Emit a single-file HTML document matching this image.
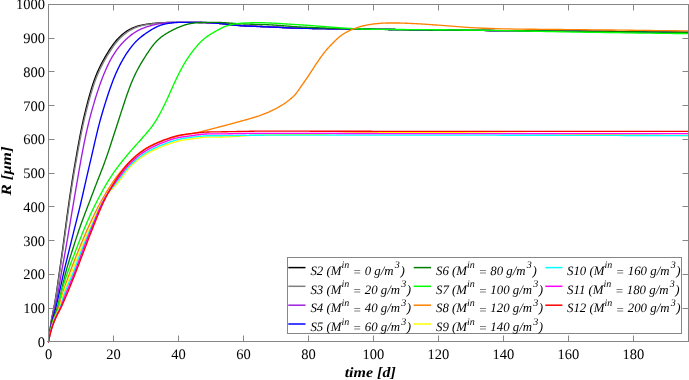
<!DOCTYPE html>
<html><head><meta charset="utf-8"><style>
html,body{margin:0;padding:0;background:#fff;}
body{width:689px;height:380px;overflow:hidden;}
svg{display:block;}
text{font-family:"Liberation Serif",serif;fill:#000;}
svg{-webkit-font-smoothing:antialiased;text-rendering:geometricPrecision;will-change:transform;}
</style></head><body>
<svg width="689" height="380" viewBox="0 0 689 380">
<rect x="0" y="0" width="689" height="380" fill="#fff"/>
<g fill="none" stroke-width="1.35" stroke-linejoin="round" stroke-linecap="round">
<path d="M48.50,341.75 48.82,339.08 49.15,336.48 49.47,333.94 49.80,331.48 50.12,329.08 50.45,326.69 50.77,324.38 51.10,322.20 51.42,320.19 51.75,318.37 52.07,316.69 52.40,315.10 52.72,313.56 53.05,312.02 53.37,310.44 53.70,308.79 54.02,307.07 54.35,305.29 54.67,303.47 55.00,301.60 55.65,297.71 56.30,293.61 56.95,289.29 57.60,284.81 58.25,280.25 58.90,275.68 59.55,271.12 60.20,266.58 60.85,262.04 61.49,257.46 62.14,252.83 62.79,248.13 63.44,243.37 64.09,238.56 64.74,233.71 65.39,228.85 66.04,223.99 66.69,219.16 67.34,214.35 67.99,209.60 68.64,204.91 69.29,200.29 69.94,195.76 70.59,191.33 71.24,187.00 71.89,182.78 72.54,178.67 73.19,174.67 73.84,170.75 74.49,166.91 75.14,163.12 75.79,159.36 76.44,155.62 77.09,151.91 77.74,148.23 78.39,144.60 79.04,141.02 79.69,137.54 80.34,134.14 80.99,130.85 81.64,127.66 82.29,124.59 82.94,121.62 83.59,118.74 84.24,115.94 84.89,113.21 85.54,110.55 86.18,107.95 86.83,105.40 87.48,102.91 88.13,100.44 88.78,98.03 89.43,95.67 90.08,93.37 90.73,91.13 91.38,88.95 92.03,86.85 92.68,84.81 93.33,82.85 93.98,80.97 94.63,79.16 95.28,77.43 95.93,75.76 96.58,74.15 97.23,72.61 97.88,71.12 98.53,69.68 99.18,68.29 99.83,66.94 100.48,65.62 101.13,64.34 101.78,63.09 102.43,61.86 103.08,60.66 103.73,59.48 104.38,58.32 105.03,57.18 105.68,56.06 106.33,54.96 106.98,53.87 107.63,52.79 108.28,51.74 108.93,50.70 109.58,49.68 110.23,48.69 110.88,47.71 111.52,46.76 112.17,45.83 112.82,44.92 113.47,44.04 114.12,43.19 114.77,42.36 115.42,41.56 116.07,40.79 116.72,40.04 117.37,39.31 118.02,38.61 118.67,37.93 119.32,37.27 119.97,36.64 120.62,36.02 121.27,35.42 121.92,34.85 122.57,34.29 123.22,33.75 123.87,33.23 124.52,32.74 125.17,32.26 125.82,31.80 126.47,31.36 127.12,30.94 127.77,30.53 128.42,30.14 129.07,29.77 129.72,29.42 130.37,29.08 131.02,28.76 131.67,28.44 132.32,28.15 132.97,27.86 133.62,27.59 134.27,27.33 134.92,27.08 135.57,26.85 136.21,26.62 136.86,26.41 137.51,26.21 138.16,26.02 138.81,25.84 139.46,25.67 140.11,25.51 140.76,25.35 141.41,25.21 142.06,25.08 142.71,24.95 143.36,24.82 144.01,24.71 144.66,24.60 145.31,24.49 145.96,24.39 146.61,24.29 147.26,24.20 147.91,24.11 148.56,24.02 149.21,23.93 149.86,23.85 150.51,23.76 151.16,23.68 151.81,23.61 152.46,23.53 153.11,23.45 153.76,23.38 154.41,23.31 155.06,23.24 155.71,23.18 156.36,23.11 157.01,23.06 157.66,23.00 158.31,22.95 158.96,22.90 159.61,22.85 160.26,22.81 160.91,22.77 161.55,22.73 162.20,22.69 162.85,22.66 163.50,22.63 164.15,22.61 164.80,22.58 165.45,22.56 166.10,22.54 166.75,22.52 167.40,22.50 168.05,22.48 168.70,22.47 169.35,22.45 170.00,22.44 170.65,22.42 171.30,22.41 171.95,22.40 172.60,22.39 173.25,22.38 173.90,22.37 174.55,22.36 175.20,22.35 175.85,22.34 176.50,22.34 177.15,22.33 177.80,22.33 178.45,22.33 179.10,22.32 179.75,22.32 180.40,22.32 181.05,22.32 181.70,22.32 182.35,22.32 183.00,22.32 183.65,22.32 184.30,22.32 184.95,22.33 185.60,22.33 186.24,22.33 186.89,22.34 187.54,22.34 188.19,22.34 188.84,22.35 189.49,22.36 190.14,22.36 190.79,22.37 191.44,22.37 192.09,22.38 192.74,22.39 193.39,22.39 194.04,22.40 194.69,22.41 195.34,22.42 195.99,22.43 196.64,22.43 197.29,22.44 197.94,22.45 198.59,22.47 199.24,22.48 199.89,22.49 200.54,22.50 201.19,22.52 201.84,22.53 202.49,22.55 203.14,22.57 203.79,22.59 204.44,22.61 205.09,22.64 205.74,22.66 206.39,22.69 207.04,22.72 207.69,22.75 208.34,22.78 208.99,22.81 209.64,22.84 210.29,22.88 210.94,22.91 211.58,22.95 212.23,22.99 212.88,23.03 213.53,23.07 214.18,23.11 214.83,23.15 215.48,23.19 216.13,23.23 216.78,23.27 217.43,23.32 218.08,23.36 218.73,23.41 219.38,23.46 220.03,23.51 220.68,23.56 221.33,23.61 221.98,23.67 222.63,23.72 223.28,23.78 223.93,23.85 224.58,23.91 225.23,23.98 225.88,24.05 226.53,24.12 227.18,24.19 227.83,24.26 228.48,24.34 229.13,24.41 229.78,24.49 230.43,24.57 231.08,24.64 231.73,24.72 232.38,24.79 233.03,24.86 233.68,24.93 234.33,25.00 234.98,25.07 235.63,25.14 236.27,25.20 236.92,25.26 237.57,25.32 238.22,25.37 238.87,25.42 239.52,25.47 240.17,25.52 240.82,25.56 241.47,25.60 242.12,25.64 242.77,25.68 243.42,25.72 244.07,25.76 244.72,25.79 245.37,25.83 246.02,25.86 246.67,25.89 247.32,25.92 247.97,25.96 248.62,25.99 249.27,26.02 249.92,26.05 250.57,26.07 251.22,26.10 251.87,26.13 252.52,26.16 253.17,26.19 253.82,26.21 254.47,26.24 255.12,26.27 255.77,26.29 256.42,26.32 257.07,26.34 257.72,26.37 258.37,26.39 259.02,26.42 259.67,26.44 260.32,26.47 260.96,26.49 261.61,26.52 262.26,26.54 262.91,26.57 263.56,26.59 264.21,26.62 264.86,26.65 265.51,26.67 266.16,26.70 266.81,26.73 267.46,26.75 268.11,26.78 268.76,26.81 269.41,26.84 270.06,26.87 270.71,26.89 271.36,26.92 272.01,26.95 272.66,26.99 273.31,27.02 273.96,27.05 274.61,27.08 275.26,27.11 275.91,27.14 276.56,27.18 277.21,27.21 277.86,27.24 278.51,27.28 279.16,27.31 279.81,27.34 280.46,27.38 281.11,27.41 281.76,27.44 282.41,27.48 283.06,27.51 283.71,27.54 284.36,27.58 285.01,27.61 285.66,27.64 286.30,27.67 286.95,27.70 287.60,27.73 288.25,27.76 288.90,27.80 289.55,27.82 290.20,27.85 290.85,27.88 291.50,27.91 292.15,27.94 292.80,27.96 293.45,27.99 294.10,28.01 294.75,28.04 295.40,28.06 296.05,28.08 296.70,28.11 297.35,28.13 298.00,28.15 298.65,28.17 299.30,28.18 299.95,28.20 300.60,28.22 301.25,28.23 301.90,28.25 302.55,28.26 303.20,28.28 303.85,28.29 304.50,28.31 305.15,28.32 305.80,28.33 306.45,28.35 307.10,28.36 307.75,28.37 308.40,28.39 309.05,28.40 309.70,28.41 310.35,28.43 310.99,28.44 311.64,28.45 312.29,28.46 312.94,28.47 313.59,28.49 314.24,28.50 314.89,28.51 315.54,28.52 316.19,28.53 316.84,28.54 317.49,28.55 318.14,28.56 318.79,28.58 319.44,28.59 320.09,28.60 320.74,28.61 321.39,28.62 322.04,28.63 322.69,28.64 323.34,28.65 323.99,28.66 324.64,28.67 325.29,28.68 325.94,28.69 326.59,28.69 327.24,28.70 327.89,28.71 328.54,28.72 329.19,28.73 329.84,28.74 330.49,28.75 331.14,28.76 331.79,28.77 332.44,28.77 333.09,28.78 333.74,28.79 334.39,28.80 335.04,28.81 335.69,28.82 336.33,28.82 336.98,28.83 337.63,28.84 338.28,28.85 338.93,28.86 339.58,28.86 340.23,28.87 340.88,28.88 341.53,28.89 342.18,28.90 342.83,28.90 343.48,28.91 344.13,28.92 344.78,28.93 345.43,28.93 346.08,28.94 346.73,28.95 347.38,28.96 348.03,28.96 348.68,28.97 349.33,28.98 349.98,28.99 350.63,28.99 351.28,29.00 351.93,29.01 352.58,29.02 353.23,29.02 353.88,29.03 354.53,29.04 355.18,29.05 355.83,29.05 356.48,29.06 357.13,29.07 357.78,29.08 358.43,29.08 359.08,29.09 359.73,29.10 360.38,29.11 361.02,29.11 361.67,29.12 362.32,29.13 362.97,29.14 363.62,29.15 364.27,29.15 364.92,29.16 365.57,29.17 366.22,29.18 366.87,29.19 367.52,29.19 368.17,29.20 368.82,29.21 369.47,29.22 370.12,29.23 370.77,29.23 371.42,29.24 372.07,29.25 372.72,29.26 373.37,29.27 374.02,29.28 374.67,29.28 375.32,29.29 375.97,29.30 376.62,29.31 377.27,29.32 377.92,29.32 378.57,29.33 379.22,29.34 379.87,29.35 380.52,29.36 381.17,29.37 381.82,29.37 382.47,29.38 383.12,29.39 383.77,29.40 384.42,29.41 385.07,29.42 385.72,29.42 386.36,29.43 387.01,29.44 387.66,29.45 388.31,29.46 388.96,29.46 389.61,29.47 390.26,29.48 390.91,29.49 391.56,29.50 392.21,29.50 392.86,29.51 393.51,29.52 394.16,29.53 394.81,29.54 395.46,29.55 396.11,29.55 396.76,29.56 397.41,29.57 398.06,29.58 398.71,29.58 399.36,29.59 400.01,29.60 400.66,29.61 401.31,29.62 401.96,29.62 402.61,29.63 403.26,29.64 403.91,29.65 404.56,29.66 405.21,29.66 405.86,29.67 406.51,29.68 407.16,29.69 407.81,29.69 408.46,29.70 409.11,29.71 409.76,29.72 410.41,29.73 411.05,29.73 411.70,29.74 412.35,29.75 413.00,29.76 413.65,29.76 414.30,29.77 414.95,29.78 415.60,29.79 416.25,29.79 416.90,29.80 417.55,29.81 418.20,29.82 418.85,29.82 419.50,29.83 420.15,29.84 420.80,29.85 421.45,29.85 422.10,29.86 422.75,29.87 423.40,29.88 424.05,29.88 424.70,29.89 425.35,29.90 426.00,29.90 426.65,29.91 427.30,29.92 427.95,29.93 428.60,29.93 429.25,29.94 429.90,29.95 430.55,29.96 431.20,29.96 431.85,29.97 432.50,29.98 433.15,29.98 433.80,29.99 434.45,30.00 435.10,30.00 435.75,30.01 436.39,30.02 437.04,30.03 437.69,30.03 438.34,30.04 444.76,30.11 451.17,30.17 457.59,30.23 464.00,30.29 470.41,30.35 476.83,30.40 483.24,30.45 489.66,30.50 496.07,30.55 502.49,30.60 508.90,30.64 515.31,30.69 521.73,30.74 528.14,30.78 534.56,30.83 540.97,30.87 547.38,30.92 553.80,30.97 560.21,31.02 566.63,31.07 573.04,31.13 579.45,31.18 585.87,31.24 592.28,31.30 598.70,31.36 605.11,31.43 611.52,31.50 617.94,31.57 624.35,31.64 630.77,31.71 637.18,31.78 643.60,31.86 650.01,31.94 656.42,32.02 662.84,32.10 669.25,32.18 675.67,32.26 682.08,32.35 688.49,32.43" stroke="#000000"/>
<path d="M48.50,341.75 48.82,339.14 49.15,336.60 49.47,334.12 49.80,331.71 50.12,329.36 50.45,327.03 50.77,324.76 51.10,322.60 51.42,320.61 51.75,318.79 52.07,317.12 52.40,315.56 52.72,314.05 53.05,312.55 53.37,311.03 53.70,309.45 54.02,307.80 54.35,306.08 54.67,304.32 55.00,302.52 55.65,298.78 56.30,294.83 56.95,290.68 57.60,286.36 58.25,281.93 58.90,277.47 59.55,273.01 60.20,268.58 60.85,264.15 61.49,259.70 62.14,255.21 62.79,250.66 63.44,246.05 64.09,241.38 64.74,236.67 65.39,231.93 66.04,227.19 66.69,222.46 67.34,217.75 67.99,213.07 68.64,208.45 69.29,203.89 69.94,199.40 70.59,195.00 71.24,190.68 71.89,186.47 72.54,182.37 73.19,178.37 73.84,174.47 74.49,170.65 75.14,166.90 75.79,163.20 76.44,159.53 77.09,155.89 77.74,152.27 78.39,148.68 79.04,145.12 79.69,141.63 80.34,138.20 80.99,134.87 81.64,131.63 82.29,128.50 82.94,125.47 83.59,122.54 84.24,119.70 84.89,116.95 85.54,114.26 86.18,111.64 86.83,109.08 87.48,106.57 88.13,104.09 88.78,101.66 89.43,99.28 90.08,96.95 90.73,94.67 91.38,92.45 92.03,90.28 92.68,88.18 93.33,86.15 93.98,84.19 94.63,82.30 95.28,80.48 95.93,78.73 96.58,77.06 97.23,75.44 97.88,73.89 98.53,72.40 99.18,70.95 99.83,69.55 100.48,68.20 101.13,66.88 101.78,65.60 102.43,64.35 103.08,63.14 103.73,61.94 104.38,60.77 105.03,59.62 105.68,58.48 106.33,57.37 106.98,56.27 107.63,55.19 108.28,54.12 108.93,53.07 109.58,52.04 110.23,51.02 110.88,50.02 111.52,49.04 112.17,48.08 112.82,47.14 113.47,46.22 114.12,45.32 114.77,44.45 115.42,43.61 116.07,42.79 116.72,41.99 117.37,41.22 118.02,40.48 118.67,39.76 119.32,39.06 119.97,38.38 120.62,37.72 121.27,37.09 121.92,36.47 122.57,35.87 123.22,35.30 123.87,34.74 124.52,34.20 125.17,33.68 125.82,33.17 126.47,32.69 127.12,32.22 127.77,31.78 128.42,31.35 129.07,30.94 129.72,30.54 130.37,30.16 131.02,29.80 131.67,29.45 132.32,29.12 132.97,28.80 133.62,28.50 134.27,28.20 134.92,27.92 135.57,27.65 136.21,27.40 136.86,27.15 137.51,26.92 138.16,26.69 138.81,26.48 139.46,26.28 140.11,26.09 140.76,25.91 141.41,25.74 142.06,25.58 142.71,25.43 143.36,25.29 144.01,25.15 144.66,25.02 145.31,24.90 145.96,24.78 146.61,24.67 147.26,24.56 147.91,24.46 148.56,24.36 149.21,24.27 149.86,24.18 150.51,24.09 151.16,24.00 151.81,23.92 152.46,23.84 153.11,23.76 153.76,23.68 154.41,23.61 155.06,23.53 155.71,23.46 156.36,23.39 157.01,23.32 157.66,23.25 158.31,23.19 158.96,23.13 159.61,23.07 160.26,23.01 160.91,22.96 161.55,22.91 162.20,22.86 162.85,22.82 163.50,22.78 164.15,22.74 164.80,22.70 165.45,22.67 166.10,22.64 166.75,22.61 167.40,22.58 168.05,22.56 168.70,22.53 169.35,22.51 170.00,22.49 170.65,22.47 171.30,22.46 171.95,22.44 172.60,22.42 173.25,22.41 173.90,22.39 174.55,22.38 175.20,22.37 175.85,22.36 176.50,22.35 177.15,22.34 177.80,22.34 178.45,22.33 179.10,22.33 179.75,22.32 180.40,22.32 181.05,22.32 181.70,22.32 182.35,22.32 183.00,22.32 183.65,22.32 184.30,22.32 184.95,22.33 185.60,22.33 186.24,22.33 186.89,22.34 187.54,22.34 188.19,22.34 188.84,22.35 189.49,22.36 190.14,22.36 190.79,22.37 191.44,22.37 192.09,22.38 192.74,22.39 193.39,22.39 194.04,22.40 194.69,22.41 195.34,22.42 195.99,22.43 196.64,22.43 197.29,22.44 197.94,22.45 198.59,22.47 199.24,22.48 199.89,22.49 200.54,22.50 201.19,22.52 201.84,22.53 202.49,22.55 203.14,22.57 203.79,22.59 204.44,22.61 205.09,22.64 205.74,22.66 206.39,22.69 207.04,22.72 207.69,22.75 208.34,22.78 208.99,22.81 209.64,22.84 210.29,22.88 210.94,22.91 211.58,22.95 212.23,22.99 212.88,23.03 213.53,23.07 214.18,23.11 214.83,23.15 215.48,23.19 216.13,23.23 216.78,23.27 217.43,23.32 218.08,23.36 218.73,23.41 219.38,23.46 220.03,23.51 220.68,23.56 221.33,23.61 221.98,23.67 222.63,23.72 223.28,23.78 223.93,23.85 224.58,23.91 225.23,23.98 225.88,24.05 226.53,24.12 227.18,24.19 227.83,24.26 228.48,24.34 229.13,24.41 229.78,24.49 230.43,24.57 231.08,24.64 231.73,24.72 232.38,24.79 233.03,24.86 233.68,24.93 234.33,25.00 234.98,25.07 235.63,25.14 236.27,25.20 236.92,25.26 237.57,25.32 238.22,25.37 238.87,25.42 239.52,25.47 240.17,25.52 240.82,25.56 241.47,25.60 242.12,25.64 242.77,25.68 243.42,25.72 244.07,25.76 244.72,25.79 245.37,25.83 246.02,25.86 246.67,25.89 247.32,25.92 247.97,25.96 248.62,25.99 249.27,26.02 249.92,26.05 250.57,26.07 251.22,26.10 251.87,26.13 252.52,26.16 253.17,26.19 253.82,26.21 254.47,26.24 255.12,26.27 255.77,26.29 256.42,26.32 257.07,26.34 257.72,26.37 258.37,26.39 259.02,26.42 259.67,26.44 260.32,26.47 260.96,26.49 261.61,26.52 262.26,26.54 262.91,26.57 263.56,26.59 264.21,26.62 264.86,26.65 265.51,26.67 266.16,26.70 266.81,26.73 267.46,26.75 268.11,26.78 268.76,26.81 269.41,26.84 270.06,26.87 270.71,26.89 271.36,26.92 272.01,26.95 272.66,26.99 273.31,27.02 273.96,27.05 274.61,27.08 275.26,27.11 275.91,27.14 276.56,27.18 277.21,27.21 277.86,27.24 278.51,27.28 279.16,27.31 279.81,27.34 280.46,27.38 281.11,27.41 281.76,27.44 282.41,27.48 283.06,27.51 283.71,27.54 284.36,27.58 285.01,27.61 285.66,27.64 286.30,27.67 286.95,27.70 287.60,27.73 288.25,27.76 288.90,27.80 289.55,27.82 290.20,27.85 290.85,27.88 291.50,27.91 292.15,27.94 292.80,27.96 293.45,27.99 294.10,28.01 294.75,28.04 295.40,28.06 296.05,28.08 296.70,28.11 297.35,28.13 298.00,28.15 298.65,28.17 299.30,28.18 299.95,28.20 300.60,28.22 301.25,28.23 301.90,28.25 302.55,28.26 303.20,28.28 303.85,28.29 304.50,28.31 305.15,28.32 305.80,28.33 306.45,28.35 307.10,28.36 307.75,28.37 308.40,28.39 309.05,28.40 309.70,28.41 310.35,28.43 310.99,28.44 311.64,28.45 312.29,28.46 312.94,28.47 313.59,28.49 314.24,28.50 314.89,28.51 315.54,28.52 316.19,28.53 316.84,28.54 317.49,28.55 318.14,28.56 318.79,28.58 319.44,28.59 320.09,28.60 320.74,28.61 321.39,28.62 322.04,28.63 322.69,28.64 323.34,28.65 323.99,28.66 324.64,28.67 325.29,28.68 325.94,28.69 326.59,28.69 327.24,28.70 327.89,28.71 328.54,28.72 329.19,28.73 329.84,28.74 330.49,28.75 331.14,28.76 331.79,28.77 332.44,28.77 333.09,28.78 333.74,28.79 334.39,28.80 335.04,28.81 335.69,28.82 336.33,28.82 336.98,28.83 337.63,28.84 338.28,28.85 338.93,28.86 339.58,28.86 340.23,28.87 340.88,28.88 341.53,28.89 342.18,28.90 342.83,28.90 343.48,28.91 344.13,28.92 344.78,28.93 345.43,28.93 346.08,28.94 346.73,28.95 347.38,28.96 348.03,28.96 348.68,28.97 349.33,28.98 349.98,28.99 350.63,28.99 351.28,29.00 351.93,29.01 352.58,29.02 353.23,29.02 353.88,29.03 354.53,29.04 355.18,29.05 355.83,29.05 356.48,29.06 357.13,29.07 357.78,29.08 358.43,29.08 359.08,29.09 359.73,29.10 360.38,29.11 361.02,29.11 361.67,29.12 362.32,29.13 362.97,29.14 363.62,29.15 364.27,29.15 364.92,29.16 365.57,29.17 366.22,29.18 366.87,29.19 367.52,29.19 368.17,29.20 368.82,29.21 369.47,29.22 370.12,29.23 370.77,29.23 371.42,29.24 372.07,29.25 372.72,29.26 373.37,29.27 374.02,29.28 374.67,29.28 375.32,29.29 375.97,29.30 376.62,29.31 377.27,29.32 377.92,29.32 378.57,29.33 379.22,29.34 379.87,29.35 380.52,29.36 381.17,29.37 381.82,29.37 382.47,29.38 383.12,29.39 383.77,29.40 384.42,29.41 385.07,29.42 385.72,29.42 386.36,29.43 387.01,29.44 387.66,29.45 388.31,29.46 388.96,29.46 389.61,29.47 390.26,29.48 390.91,29.49 391.56,29.50 392.21,29.50 392.86,29.51 393.51,29.52 394.16,29.53 394.81,29.54 395.46,29.55 396.11,29.55 396.76,29.56 397.41,29.57 398.06,29.58 398.71,29.58 399.36,29.59 400.01,29.60 400.66,29.61 401.31,29.62 401.96,29.62 402.61,29.63 403.26,29.64 403.91,29.65 404.56,29.66 405.21,29.66 405.86,29.67 406.51,29.68 407.16,29.69 407.81,29.69 408.46,29.70 409.11,29.71 409.76,29.72 410.41,29.73 411.05,29.73 411.70,29.74 412.35,29.75 413.00,29.76 413.65,29.76 414.30,29.77 414.95,29.78 415.60,29.79 416.25,29.79 416.90,29.80 417.55,29.81 418.20,29.82 418.85,29.82 419.50,29.83 420.15,29.84 420.80,29.85 421.45,29.85 422.10,29.86 422.75,29.87 423.40,29.88 424.05,29.88 424.70,29.89 425.35,29.90 426.00,29.90 426.65,29.91 427.30,29.92 427.95,29.93 428.60,29.93 429.25,29.94 429.90,29.95 430.55,29.96 431.20,29.96 431.85,29.97 432.50,29.98 433.15,29.98 433.80,29.99 434.45,30.00 435.10,30.00 435.75,30.01 436.39,30.02 437.04,30.03 437.69,30.03 438.34,30.04 444.76,30.11 451.17,30.17 457.59,30.23 464.00,30.29 470.41,30.35 476.83,30.40 483.24,30.45 489.66,30.50 496.07,30.55 502.49,30.60 508.90,30.64 515.31,30.69 521.73,30.74 528.14,30.78 534.56,30.83 540.97,30.87 547.38,30.92 553.80,30.97 560.21,31.02 566.63,31.07 573.04,31.13 579.45,31.18 585.87,31.24 592.28,31.30 598.70,31.36 605.11,31.43 611.52,31.50 617.94,31.57 624.35,31.64 630.77,31.71 637.18,31.78 643.60,31.86 650.01,31.94 656.42,32.02 662.84,32.10 669.25,32.18 675.67,32.26 682.08,32.35 688.49,32.43" stroke="#7f7f7f"/>
<path d="M48.50,341.75 48.82,339.28 49.15,336.89 49.47,334.58 49.80,332.38 50.12,330.27 50.45,328.26 50.77,326.32 51.10,324.46 51.42,322.68 51.75,320.99 52.07,319.39 52.40,317.89 52.72,316.45 53.05,315.08 53.37,313.73 53.70,312.40 54.02,311.06 54.35,309.70 54.67,308.32 55.00,306.94 55.65,304.15 56.30,301.29 56.95,298.27 57.60,295.02 58.25,291.49 58.90,287.76 59.55,283.89 60.20,280.00 60.85,276.15 61.49,272.39 62.14,268.73 62.79,265.15 63.44,261.60 64.09,258.05 64.74,254.46 65.39,250.83 66.04,247.12 66.69,243.35 67.34,239.53 67.99,235.67 68.64,231.79 69.29,227.91 69.94,224.04 70.59,220.17 71.24,216.31 71.89,212.47 72.54,208.62 73.19,204.78 73.84,200.94 74.49,197.11 75.14,193.27 75.79,189.45 76.44,185.64 77.09,181.84 77.74,178.06 78.39,174.31 79.04,170.58 79.69,166.90 80.34,163.26 80.99,159.67 81.64,156.13 82.29,152.67 82.94,149.26 83.59,145.94 84.24,142.69 84.89,139.53 85.54,136.45 86.18,133.47 86.83,130.56 87.48,127.75 88.13,124.98 88.78,122.30 89.43,119.69 90.08,117.15 90.73,114.67 91.38,112.26 92.03,109.90 92.68,107.59 93.33,105.32 93.98,103.10 94.63,100.92 95.28,98.78 95.93,96.67 96.58,94.61 97.23,92.58 97.88,90.59 98.53,88.64 99.18,86.74 99.83,84.88 100.48,83.06 101.13,81.28 101.78,79.54 102.43,77.84 103.08,76.18 103.73,74.56 104.38,72.98 105.03,71.43 105.68,69.93 106.33,68.45 106.98,67.02 107.63,65.62 108.28,64.27 108.93,62.95 109.58,61.67 110.23,60.43 110.88,59.23 111.52,58.07 112.17,56.94 112.82,55.85 113.47,54.80 114.12,53.77 114.77,52.78 115.42,51.82 116.07,50.89 116.72,49.98 117.37,49.10 118.02,48.25 118.67,47.41 119.32,46.60 119.97,45.81 120.62,45.05 121.27,44.30 121.92,43.57 122.57,42.86 123.22,42.18 123.87,41.50 124.52,40.85 125.17,40.21 125.82,39.59 126.47,38.98 127.12,38.39 127.77,37.81 128.42,37.25 129.07,36.70 129.72,36.16 130.37,35.64 131.02,35.12 131.67,34.63 132.32,34.14 132.97,33.68 133.62,33.22 134.27,32.78 134.92,32.36 135.57,31.95 136.21,31.55 136.86,31.17 137.51,30.80 138.16,30.45 138.81,30.11 139.46,29.79 140.11,29.48 140.76,29.18 141.41,28.89 142.06,28.61 142.71,28.35 143.36,28.09 144.01,27.84 144.66,27.60 145.31,27.37 145.96,27.14 146.61,26.92 147.26,26.71 147.91,26.50 148.56,26.30 149.21,26.11 149.86,25.91 150.51,25.73 151.16,25.55 151.81,25.37 152.46,25.20 153.11,25.04 153.76,24.88 154.41,24.72 155.06,24.57 155.71,24.43 156.36,24.30 157.01,24.17 157.66,24.04 158.31,23.92 158.96,23.81 159.61,23.70 160.26,23.60 160.91,23.51 161.55,23.41 162.20,23.33 162.85,23.24 163.50,23.17 164.15,23.09 164.80,23.03 165.45,22.96 166.10,22.90 166.75,22.85 167.40,22.80 168.05,22.75 168.70,22.70 169.35,22.66 170.00,22.63 170.65,22.59 171.30,22.56 171.95,22.53 172.60,22.50 173.25,22.48 173.90,22.45 174.55,22.43 175.20,22.42 175.85,22.40 176.50,22.38 177.15,22.37 177.80,22.36 178.45,22.35 179.10,22.34 179.75,22.34 180.40,22.33 181.05,22.33 181.70,22.32 182.35,22.32 183.00,22.32 183.65,22.32 184.30,22.32 184.95,22.33 185.60,22.33 186.24,22.33 186.89,22.34 187.54,22.34 188.19,22.34 188.84,22.35 189.49,22.36 190.14,22.36 190.79,22.37 191.44,22.37 192.09,22.38 192.74,22.39 193.39,22.39 194.04,22.40 194.69,22.41 195.34,22.42 195.99,22.43 196.64,22.43 197.29,22.44 197.94,22.45 198.59,22.47 199.24,22.48 199.89,22.49 200.54,22.50 201.19,22.52 201.84,22.53 202.49,22.55 203.14,22.57 203.79,22.59 204.44,22.61 205.09,22.64 205.74,22.66 206.39,22.69 207.04,22.72 207.69,22.75 208.34,22.78 208.99,22.81 209.64,22.84 210.29,22.88 210.94,22.91 211.58,22.95 212.23,22.99 212.88,23.03 213.53,23.07 214.18,23.11 214.83,23.15 215.48,23.19 216.13,23.23 216.78,23.27 217.43,23.32 218.08,23.36 218.73,23.41 219.38,23.46 220.03,23.51 220.68,23.56 221.33,23.61 221.98,23.67 222.63,23.72 223.28,23.78 223.93,23.85 224.58,23.91 225.23,23.98 225.88,24.05 226.53,24.12 227.18,24.19 227.83,24.26 228.48,24.34 229.13,24.41 229.78,24.49 230.43,24.57 231.08,24.64 231.73,24.72 232.38,24.79 233.03,24.86 233.68,24.93 234.33,25.00 234.98,25.07 235.63,25.14 236.27,25.20 236.92,25.26 237.57,25.32 238.22,25.37 238.87,25.42 239.52,25.47 240.17,25.52 240.82,25.56 241.47,25.60 242.12,25.64 242.77,25.68 243.42,25.72 244.07,25.76 244.72,25.79 245.37,25.83 246.02,25.86 246.67,25.89 247.32,25.92 247.97,25.96 248.62,25.99 249.27,26.02 249.92,26.05 250.57,26.07 251.22,26.10 251.87,26.13 252.52,26.16 253.17,26.19 253.82,26.21 254.47,26.24 255.12,26.27 255.77,26.29 256.42,26.32 257.07,26.34 257.72,26.37 258.37,26.39 259.02,26.42 259.67,26.44 260.32,26.47 260.96,26.49 261.61,26.52 262.26,26.54 262.91,26.57 263.56,26.59 264.21,26.62 264.86,26.65 265.51,26.67 266.16,26.70 266.81,26.73 267.46,26.75 268.11,26.78 268.76,26.81 269.41,26.84 270.06,26.87 270.71,26.89 271.36,26.92 272.01,26.95 272.66,26.99 273.31,27.02 273.96,27.05 274.61,27.08 275.26,27.11 275.91,27.14 276.56,27.18 277.21,27.21 277.86,27.24 278.51,27.28 279.16,27.31 279.81,27.34 280.46,27.38 281.11,27.41 281.76,27.44 282.41,27.48 283.06,27.51 283.71,27.54 284.36,27.58 285.01,27.61 285.66,27.64 286.30,27.67 286.95,27.70 287.60,27.73 288.25,27.76 288.90,27.80 289.55,27.82 290.20,27.85 290.85,27.88 291.50,27.91 292.15,27.94 292.80,27.96 293.45,27.99 294.10,28.01 294.75,28.04 295.40,28.06 296.05,28.08 296.70,28.11 297.35,28.13 298.00,28.15 298.65,28.17 299.30,28.18 299.95,28.20 300.60,28.22 301.25,28.23 301.90,28.25 302.55,28.26 303.20,28.28 303.85,28.29 304.50,28.31 305.15,28.32 305.80,28.33 306.45,28.35 307.10,28.36 307.75,28.37 308.40,28.39 309.05,28.40 309.70,28.41 310.35,28.43 310.99,28.44 311.64,28.45 312.29,28.46 312.94,28.47 313.59,28.49 314.24,28.50 314.89,28.51 315.54,28.52 316.19,28.53 316.84,28.54 317.49,28.55 318.14,28.56 318.79,28.58 319.44,28.59 320.09,28.60 320.74,28.61 321.39,28.62 322.04,28.63 322.69,28.64 323.34,28.65 323.99,28.66 324.64,28.67 325.29,28.68 325.94,28.69 326.59,28.69 327.24,28.70 327.89,28.71 328.54,28.72 329.19,28.73 329.84,28.74 330.49,28.75 331.14,28.76 331.79,28.77 332.44,28.77 333.09,28.78 333.74,28.79 334.39,28.80 335.04,28.81 335.69,28.82 336.33,28.82 336.98,28.83 337.63,28.84 338.28,28.85 338.93,28.86 339.58,28.86 340.23,28.87 340.88,28.88 341.53,28.89 342.18,28.90 342.83,28.90 343.48,28.91 344.13,28.92 344.78,28.93 345.43,28.93 346.08,28.94 346.73,28.95 347.38,28.96 348.03,28.96 348.68,28.97 349.33,28.98 349.98,28.99 350.63,28.99 351.28,29.00 351.93,29.01 352.58,29.02 353.23,29.02 353.88,29.03 354.53,29.04 355.18,29.05 355.83,29.05 356.48,29.06 357.13,29.07 357.78,29.08 358.43,29.08 359.08,29.09 359.73,29.10 360.38,29.11 361.02,29.11 361.67,29.12 362.32,29.13 362.97,29.14 363.62,29.15 364.27,29.15 364.92,29.16 365.57,29.17 366.22,29.18 366.87,29.19 367.52,29.19 368.17,29.20 368.82,29.21 369.47,29.22 370.12,29.23 370.77,29.23 371.42,29.24 372.07,29.25 372.72,29.26 373.37,29.27 374.02,29.28 374.67,29.28 375.32,29.29 375.97,29.30 376.62,29.31 377.27,29.32 377.92,29.32 378.57,29.33 379.22,29.34 379.87,29.35 380.52,29.36 381.17,29.37 381.82,29.37 382.47,29.38 383.12,29.39 383.77,29.40 384.42,29.41 385.07,29.42 385.72,29.42 386.36,29.43 387.01,29.44 387.66,29.45 388.31,29.46 388.96,29.46 389.61,29.47 390.26,29.48 390.91,29.49 391.56,29.50 392.21,29.50 392.86,29.51 393.51,29.52 394.16,29.53 394.81,29.54 395.46,29.55 396.11,29.55 396.76,29.56 397.41,29.57 398.06,29.58 398.71,29.58 399.36,29.59 400.01,29.60 400.66,29.61 401.31,29.62 401.96,29.62 402.61,29.63 403.26,29.64 403.91,29.65 404.56,29.66 405.21,29.66 405.86,29.67 406.51,29.68 407.16,29.69 407.81,29.69 408.46,29.70 409.11,29.71 409.76,29.72 410.41,29.73 411.05,29.73 411.70,29.74 412.35,29.75 413.00,29.76 413.65,29.76 414.30,29.77 414.95,29.78 415.60,29.79 416.25,29.79 416.90,29.80 417.55,29.81 418.20,29.82 418.85,29.82 419.50,29.83 420.15,29.84 420.80,29.85 421.45,29.85 422.10,29.86 422.75,29.87 423.40,29.88 424.05,29.88 424.70,29.89 425.35,29.90 426.00,29.90 426.65,29.91 427.30,29.92 427.95,29.93 428.60,29.93 429.25,29.94 429.90,29.95 430.55,29.96 431.20,29.96 431.85,29.97 432.50,29.98 433.15,29.98 433.80,29.99 434.45,30.00 435.10,30.00 435.75,30.01 436.39,30.02 437.04,30.03 437.69,30.03 438.34,30.04 444.76,30.11 451.17,30.17 457.59,30.23 464.00,30.29 470.41,30.35 476.83,30.40 483.24,30.45 489.66,30.50 496.07,30.55 502.49,30.60 508.90,30.64 515.31,30.69 521.73,30.74 528.14,30.78 534.56,30.83 540.97,30.87 547.38,30.92 553.80,30.97 560.21,31.02 566.63,31.07 573.04,31.13 579.45,31.18 585.87,31.24 592.28,31.30 598.70,31.36 605.11,31.43 611.52,31.50 617.94,31.57 624.35,31.64 630.77,31.71 637.18,31.78 643.60,31.86 650.01,31.94 656.42,32.02 662.84,32.10 669.25,32.18 675.67,32.26 682.08,32.35 688.49,32.43" stroke="#a01ee0"/>
<path d="M48.50,341.75 48.82,339.46 49.15,337.24 49.47,335.12 49.80,333.10 50.12,331.19 50.45,329.39 50.77,327.69 51.10,326.05 51.42,324.49 51.75,322.99 52.07,321.55 52.40,320.18 52.72,318.87 53.05,317.62 53.37,316.43 53.70,315.28 54.02,314.15 54.35,313.02 54.67,311.88 55.00,310.72 55.65,308.27 56.30,305.67 56.95,302.94 57.60,300.15 58.25,297.31 58.90,294.42 59.55,291.49 60.20,288.51 60.85,285.52 61.49,282.53 62.14,279.56 62.79,276.63 63.44,273.76 64.09,270.94 64.74,268.18 65.39,265.46 66.04,262.77 66.69,260.11 67.34,257.47 67.99,254.83 68.64,252.20 69.29,249.57 69.94,246.93 70.59,244.30 71.24,241.67 71.89,239.04 72.54,236.42 73.19,233.80 73.84,231.19 74.49,228.58 75.14,225.98 75.79,223.40 76.44,220.81 77.09,218.22 77.74,215.63 78.39,213.01 79.04,210.37 79.69,207.70 80.34,204.99 80.99,202.24 81.64,199.44 82.29,196.62 82.94,193.77 83.59,190.90 84.24,188.02 84.89,185.15 85.54,182.29 86.18,179.44 86.83,176.62 87.48,173.81 88.13,171.00 88.78,168.21 89.43,165.42 90.08,162.64 90.73,159.85 91.38,157.05 92.03,154.24 92.68,151.42 93.33,148.58 93.98,145.75 94.63,142.92 95.28,140.10 95.93,137.32 96.58,134.57 97.23,131.87 97.88,129.23 98.53,126.65 99.18,124.14 99.83,121.69 100.48,119.30 101.13,116.98 101.78,114.70 102.43,112.47 103.08,110.29 103.73,108.14 104.38,106.01 105.03,103.91 105.68,101.84 106.33,99.79 106.98,97.76 107.63,95.75 108.28,93.78 108.93,91.83 109.58,89.92 110.23,88.04 110.88,86.21 111.52,84.42 112.17,82.67 112.82,80.97 113.47,79.31 114.12,77.69 114.77,76.12 115.42,74.59 116.07,73.10 116.72,71.65 117.37,70.23 118.02,68.85 118.67,67.50 119.32,66.19 119.97,64.91 120.62,63.66 121.27,62.44 121.92,61.25 122.57,60.09 123.22,58.96 123.87,57.85 124.52,56.77 125.17,55.72 125.82,54.69 126.47,53.69 127.12,52.71 127.77,51.75 128.42,50.81 129.07,49.90 129.72,49.01 130.37,48.14 131.02,47.29 131.67,46.46 132.32,45.65 132.97,44.87 133.62,44.11 134.27,43.37 134.92,42.66 135.57,41.96 136.21,41.29 136.86,40.64 137.51,40.01 138.16,39.40 138.81,38.81 139.46,38.24 140.11,37.68 140.76,37.15 141.41,36.62 142.06,36.11 142.71,35.62 143.36,35.13 144.01,34.66 144.66,34.20 145.31,33.74 145.96,33.30 146.61,32.86 147.26,32.43 147.91,32.00 148.56,31.58 149.21,31.16 149.86,30.75 150.51,30.34 151.16,29.94 151.81,29.54 152.46,29.15 153.11,28.77 153.76,28.40 154.41,28.04 155.06,27.69 155.71,27.35 156.36,27.03 157.01,26.71 157.66,26.42 158.31,26.14 158.96,25.87 159.61,25.62 160.26,25.38 160.91,25.16 161.55,24.94 162.20,24.75 162.85,24.56 163.50,24.39 164.15,24.23 164.80,24.07 165.45,23.93 166.10,23.80 166.75,23.67 167.40,23.56 168.05,23.45 168.70,23.34 169.35,23.25 170.00,23.16 170.65,23.07 171.30,22.99 171.95,22.92 172.60,22.85 173.25,22.78 173.90,22.72 174.55,22.66 175.20,22.61 175.85,22.56 176.50,22.52 177.15,22.48 177.80,22.45 178.45,22.42 179.10,22.40 179.75,22.38 180.40,22.36 181.05,22.35 181.70,22.34 182.35,22.33 183.00,22.32 183.65,22.32 184.30,22.31 184.95,22.31 185.60,22.31 186.24,22.31 186.89,22.31 187.54,22.31 188.19,22.31 188.84,22.31 189.49,22.31 190.14,22.31 190.79,22.31 191.44,22.31 192.09,22.31 192.74,22.31 193.39,22.31 194.04,22.31 194.69,22.31 195.34,22.31 195.99,22.31 196.64,22.31 197.29,22.31 197.94,22.32 198.59,22.32 199.24,22.32 199.89,22.33 200.54,22.34 201.19,22.35 201.84,22.36 202.49,22.38 203.14,22.39 203.79,22.41 204.44,22.43 205.09,22.46 205.74,22.49 206.39,22.52 207.04,22.55 207.69,22.58 208.34,22.62 208.99,22.66 209.64,22.70 210.29,22.74 210.94,22.79 211.58,22.83 212.23,22.88 212.88,22.93 213.53,22.98 214.18,23.03 214.83,23.08 215.48,23.13 216.13,23.18 216.78,23.23 217.43,23.28 218.08,23.34 218.73,23.39 219.38,23.45 220.03,23.50 220.68,23.56 221.33,23.62 221.98,23.68 222.63,23.75 223.28,23.82 223.93,23.89 224.58,23.96 225.23,24.03 225.88,24.11 226.53,24.19 227.18,24.27 227.83,24.35 228.48,24.43 229.13,24.51 229.78,24.59 230.43,24.67 231.08,24.76 231.73,24.84 232.38,24.92 233.03,25.00 233.68,25.07 234.33,25.15 234.98,25.22 235.63,25.29 236.27,25.35 236.92,25.42 237.57,25.48 238.22,25.53 238.87,25.59 239.52,25.64 240.17,25.69 240.82,25.73 241.47,25.77 242.12,25.81 242.77,25.85 243.42,25.89 244.07,25.93 244.72,25.96 245.37,25.99 246.02,26.03 246.67,26.06 247.32,26.09 247.97,26.12 248.62,26.15 249.27,26.18 249.92,26.21 250.57,26.24 251.22,26.27 251.87,26.29 252.52,26.32 253.17,26.35 253.82,26.37 254.47,26.40 255.12,26.42 255.77,26.45 256.42,26.47 257.07,26.50 257.72,26.52 258.37,26.55 259.02,26.57 259.67,26.60 260.32,26.62 260.96,26.64 261.61,26.67 262.26,26.69 262.91,26.72 263.56,26.74 264.21,26.77 264.86,26.79 265.51,26.82 266.16,26.84 266.81,26.87 267.46,26.89 268.11,26.92 268.76,26.95 269.41,26.97 270.06,27.00 270.71,27.03 271.36,27.06 272.01,27.09 272.66,27.12 273.31,27.15 273.96,27.18 274.61,27.21 275.26,27.24 275.91,27.27 276.56,27.30 277.21,27.33 277.86,27.36 278.51,27.39 279.16,27.43 279.81,27.46 280.46,27.49 281.11,27.52 281.76,27.55 282.41,27.58 283.06,27.62 283.71,27.65 284.36,27.68 285.01,27.71 285.66,27.74 286.30,27.77 286.95,27.80 287.60,27.83 288.25,27.86 288.90,27.89 289.55,27.91 290.20,27.94 290.85,27.97 291.50,28.00 292.15,28.02 292.80,28.05 293.45,28.07 294.10,28.09 294.75,28.12 295.40,28.14 296.05,28.16 296.70,28.18 297.35,28.20 298.00,28.22 298.65,28.24 299.30,28.25 299.95,28.27 300.60,28.28 301.25,28.30 301.90,28.31 302.55,28.33 303.20,28.34 303.85,28.35 304.50,28.37 305.15,28.38 305.80,28.39 306.45,28.41 307.10,28.42 307.75,28.43 308.40,28.44 309.05,28.46 309.70,28.47 310.35,28.48 310.99,28.49 311.64,28.50 312.29,28.51 312.94,28.52 313.59,28.54 314.24,28.55 314.89,28.56 315.54,28.57 316.19,28.58 316.84,28.59 317.49,28.60 318.14,28.61 318.79,28.62 319.44,28.63 320.09,28.64 320.74,28.65 321.39,28.66 322.04,28.67 322.69,28.68 323.34,28.68 323.99,28.69 324.64,28.70 325.29,28.71 325.94,28.72 326.59,28.73 327.24,28.74 327.89,28.75 328.54,28.75 329.19,28.76 329.84,28.77 330.49,28.78 331.14,28.79 331.79,28.79 332.44,28.80 333.09,28.81 333.74,28.82 334.39,28.83 335.04,28.83 335.69,28.84 336.33,28.85 336.98,28.86 337.63,28.86 338.28,28.87 338.93,28.88 339.58,28.89 340.23,28.89 340.88,28.90 341.53,28.91 342.18,28.91 342.83,28.92 343.48,28.93 344.13,28.94 344.78,28.94 345.43,28.95 346.08,28.96 346.73,28.96 347.38,28.97 348.03,28.98 348.68,28.98 349.33,28.99 349.98,29.00 350.63,29.01 351.28,29.01 351.93,29.02 352.58,29.03 353.23,29.03 353.88,29.04 354.53,29.05 355.18,29.05 355.83,29.06 356.48,29.07 357.13,29.08 357.78,29.08 358.43,29.09 359.08,29.10 359.73,29.10 360.38,29.11 361.02,29.12 361.67,29.13 362.32,29.13 362.97,29.14 363.62,29.15 364.27,29.16 364.92,29.16 365.57,29.17 366.22,29.18 366.87,29.19 367.52,29.19 368.17,29.20 368.82,29.21 369.47,29.22 370.12,29.23 370.77,29.23 371.42,29.24 372.07,29.25 372.72,29.26 373.37,29.27 374.02,29.27 374.67,29.28 375.32,29.29 375.97,29.30 376.62,29.31 377.27,29.31 377.92,29.32 378.57,29.33 379.22,29.34 379.87,29.35 380.52,29.35 381.17,29.36 381.82,29.37 382.47,29.38 383.12,29.39 383.77,29.40 384.42,29.40 385.07,29.41 385.72,29.42 386.36,29.43 387.01,29.44 387.66,29.44 388.31,29.45 388.96,29.46 389.61,29.47 390.26,29.48 390.91,29.48 391.56,29.49 392.21,29.50 392.86,29.51 393.51,29.52 394.16,29.52 394.81,29.53 395.46,29.54 396.11,29.55 396.76,29.56 397.41,29.56 398.06,29.57 398.71,29.58 399.36,29.59 400.01,29.60 400.66,29.60 401.31,29.61 401.96,29.62 402.61,29.63 403.26,29.64 403.91,29.64 404.56,29.65 405.21,29.66 405.86,29.67 406.51,29.67 407.16,29.68 407.81,29.69 408.46,29.70 409.11,29.71 409.76,29.71 410.41,29.72 411.05,29.73 411.70,29.74 412.35,29.74 413.00,29.75 413.65,29.76 414.30,29.77 414.95,29.77 415.60,29.78 416.25,29.79 416.90,29.80 417.55,29.81 418.20,29.81 418.85,29.82 419.50,29.83 420.15,29.84 420.80,29.84 421.45,29.85 422.10,29.86 422.75,29.87 423.40,29.87 424.05,29.88 424.70,29.89 425.35,29.89 426.00,29.90 426.65,29.91 427.30,29.92 427.95,29.92 428.60,29.93 429.25,29.94 429.90,29.95 430.55,29.95 431.20,29.96 431.85,29.97 432.50,29.97 433.15,29.98 433.80,29.99 434.45,30.00 435.10,30.00 435.75,30.01 436.39,30.02 437.04,30.02 437.69,30.03 438.34,30.04 444.76,30.10 451.17,30.17 457.59,30.23 464.00,30.29 470.41,30.35 476.83,30.40 483.24,30.45 489.66,30.50 496.07,30.55 502.49,30.59 508.90,30.64 515.31,30.68 521.73,30.73 528.14,30.77 534.56,30.82 540.97,30.86 547.38,30.91 553.80,30.96 560.21,31.01 566.63,31.06 573.04,31.12 579.45,31.18 585.87,31.24 592.28,31.31 598.70,31.37 605.11,31.45 611.52,31.52 617.94,31.60 624.35,31.68 630.77,31.76 637.18,31.85 643.60,31.93 650.01,32.02 656.42,32.12 662.84,32.21 669.25,32.30 675.67,32.40 682.08,32.50 688.49,32.60" stroke="#0000ff"/>
<path d="M48.50,341.75 48.82,339.62 49.15,337.56 49.47,335.59 49.80,333.70 50.12,331.93 50.45,330.27 50.77,328.72 51.10,327.23 51.42,325.80 51.75,324.44 52.07,323.14 52.40,321.91 52.72,320.74 53.05,319.65 53.37,318.62 53.70,317.66 54.02,316.75 54.35,315.87 54.67,315.03 55.00,314.19 55.65,312.51 56.30,310.72 56.95,308.73 57.60,306.51 58.25,304.08 58.90,301.51 59.55,298.85 60.20,296.13 60.85,293.35 61.49,290.51 62.14,287.62 62.79,284.73 63.44,281.86 64.09,279.07 64.74,276.36 65.39,273.77 66.04,271.29 66.69,268.90 67.34,266.60 67.99,264.38 68.64,262.21 69.29,260.08 69.94,257.99 70.59,255.92 71.24,253.87 71.89,251.82 72.54,249.78 73.19,247.73 73.84,245.70 74.49,243.66 75.14,241.64 75.79,239.62 76.44,237.62 77.09,235.64 77.74,233.67 78.39,231.73 79.04,229.82 79.69,227.94 80.34,226.08 80.99,224.25 81.64,222.45 82.29,220.68 82.94,218.93 83.59,217.21 84.24,215.50 84.89,213.80 85.54,212.11 86.18,210.42 86.83,208.73 87.48,207.05 88.13,205.36 88.78,203.66 89.43,201.96 90.08,200.26 90.73,198.55 91.38,196.83 92.03,195.11 92.68,193.40 93.33,191.68 93.98,189.97 94.63,188.27 95.28,186.57 95.93,184.88 96.58,183.20 97.23,181.52 97.88,179.86 98.53,178.19 99.18,176.54 99.83,174.88 100.48,173.21 101.13,171.54 101.78,169.85 102.43,168.15 103.08,166.43 103.73,164.69 104.38,162.93 105.03,161.14 105.68,159.33 106.33,157.49 106.98,155.63 107.63,153.75 108.28,151.85 108.93,149.92 109.58,147.98 110.23,146.02 110.88,144.05 111.52,142.06 112.17,140.06 112.82,138.05 113.47,136.04 114.12,134.03 114.77,132.01 115.42,129.99 116.07,127.97 116.72,125.96 117.37,123.95 118.02,121.93 118.67,119.93 119.32,117.92 119.97,115.91 120.62,113.91 121.27,111.91 121.92,109.91 122.57,107.92 123.22,105.94 123.87,103.96 124.52,102.00 125.17,100.06 125.82,98.13 126.47,96.22 127.12,94.34 127.77,92.49 128.42,90.67 129.07,88.89 129.72,87.16 130.37,85.46 131.02,83.81 131.67,82.21 132.32,80.65 132.97,79.15 133.62,77.68 134.27,76.26 134.92,74.88 135.57,73.54 136.21,72.24 136.86,70.97 137.51,69.73 138.16,68.52 138.81,67.33 139.46,66.17 140.11,65.03 140.76,63.91 141.41,62.81 142.06,61.72 142.71,60.65 143.36,59.60 144.01,58.55 144.66,57.52 145.31,56.50 145.96,55.48 146.61,54.48 147.26,53.49 147.91,52.51 148.56,51.54 149.21,50.59 149.86,49.65 150.51,48.73 151.16,47.83 151.81,46.94 152.46,46.09 153.11,45.25 153.76,44.44 154.41,43.66 155.06,42.90 155.71,42.18 156.36,41.48 157.01,40.81 157.66,40.17 158.31,39.56 158.96,38.97 159.61,38.40 160.26,37.86 160.91,37.33 161.55,36.83 162.20,36.35 162.85,35.88 163.50,35.43 164.15,34.99 164.80,34.56 165.45,34.14 166.10,33.74 166.75,33.34 167.40,32.96 168.05,32.58 168.70,32.21 169.35,31.85 170.00,31.49 170.65,31.14 171.30,30.80 171.95,30.46 172.60,30.12 173.25,29.80 173.90,29.47 174.55,29.15 175.20,28.84 175.85,28.53 176.50,28.22 177.15,27.92 177.80,27.63 178.45,27.34 179.10,27.06 179.75,26.79 180.40,26.53 181.05,26.27 181.70,26.02 182.35,25.78 183.00,25.55 183.65,25.34 184.30,25.13 184.95,24.93 185.60,24.74 186.24,24.55 186.89,24.38 187.54,24.22 188.19,24.06 188.84,23.92 189.49,23.78 190.14,23.65 190.79,23.53 191.44,23.42 192.09,23.31 192.74,23.22 193.39,23.13 194.04,23.05 194.69,22.98 195.34,22.91 195.99,22.85 196.64,22.80 197.29,22.75 197.94,22.71 198.59,22.67 199.24,22.63 199.89,22.60 200.54,22.57 201.19,22.54 201.84,22.51 202.49,22.49 203.14,22.47 203.79,22.44 204.44,22.42 205.09,22.41 205.74,22.39 206.39,22.38 207.04,22.36 207.69,22.35 208.34,22.34 208.99,22.34 209.64,22.33 210.29,22.33 210.94,22.33 211.58,22.33 212.23,22.33 212.88,22.33 213.53,22.34 214.18,22.35 214.83,22.36 215.48,22.37 216.13,22.38 216.78,22.39 217.43,22.40 218.08,22.42 218.73,22.44 219.38,22.45 220.03,22.47 220.68,22.50 221.33,22.52 221.98,22.55 222.63,22.58 223.28,22.61 223.93,22.64 224.58,22.68 225.23,22.72 225.88,22.76 226.53,22.81 227.18,22.86 227.83,22.91 228.48,22.96 229.13,23.01 229.78,23.06 230.43,23.12 231.08,23.17 231.73,23.23 232.38,23.28 233.03,23.34 233.68,23.39 234.33,23.44 234.98,23.49 235.63,23.54 236.27,23.59 236.92,23.63 237.57,23.68 238.22,23.72 238.87,23.76 239.52,23.79 240.17,23.83 240.82,23.86 241.47,23.89 242.12,23.92 242.77,23.95 243.42,23.97 244.07,24.00 244.72,24.02 245.37,24.04 246.02,24.07 246.67,24.09 247.32,24.11 247.97,24.13 248.62,24.15 249.27,24.17 249.92,24.19 250.57,24.21 251.22,24.23 251.87,24.25 252.52,24.27 253.17,24.29 253.82,24.30 254.47,24.32 255.12,24.34 255.77,24.36 256.42,24.38 257.07,24.39 257.72,24.41 258.37,24.43 259.02,24.45 259.67,24.47 260.32,24.49 260.96,24.51 261.61,24.53 262.26,24.55 262.91,24.57 263.56,24.59 264.21,24.61 264.86,24.63 265.51,24.66 266.16,24.68 266.81,24.71 267.46,24.73 268.11,24.76 268.76,24.79 269.41,24.82 270.06,24.85 270.71,24.88 271.36,24.91 272.01,24.95 272.66,24.98 273.31,25.02 273.96,25.06 274.61,25.10 275.26,25.14 275.91,25.19 276.56,25.23 277.21,25.28 277.86,25.33 278.51,25.38 279.16,25.43 279.81,25.48 280.46,25.53 281.11,25.58 281.76,25.63 282.41,25.69 283.06,25.74 283.71,25.79 284.36,25.85 285.01,25.90 285.66,25.96 286.30,26.01 286.95,26.06 287.60,26.12 288.25,26.17 288.90,26.22 289.55,26.28 290.20,26.33 290.85,26.38 291.50,26.43 292.15,26.48 292.80,26.53 293.45,26.57 294.10,26.62 294.75,26.67 295.40,26.71 296.05,26.75 296.70,26.79 297.35,26.83 298.00,26.87 298.65,26.91 299.30,26.94 299.95,26.97 300.60,27.01 301.25,27.04 301.90,27.07 302.55,27.10 303.20,27.13 303.85,27.16 304.50,27.19 305.15,27.22 305.80,27.25 306.45,27.28 307.10,27.30 307.75,27.33 308.40,27.36 309.05,27.39 309.70,27.42 310.35,27.44 310.99,27.47 311.64,27.50 312.29,27.52 312.94,27.55 313.59,27.58 314.24,27.60 314.89,27.63 315.54,27.66 316.19,27.68 316.84,27.71 317.49,27.73 318.14,27.76 318.79,27.79 319.44,27.81 320.09,27.84 320.74,27.86 321.39,27.88 322.04,27.91 322.69,27.93 323.34,27.96 323.99,27.98 324.64,28.00 325.29,28.03 325.94,28.05 326.59,28.07 327.24,28.10 327.89,28.12 328.54,28.14 329.19,28.17 329.84,28.19 330.49,28.21 331.14,28.23 331.79,28.25 332.44,28.28 333.09,28.30 333.74,28.32 334.39,28.34 335.04,28.36 335.69,28.38 336.33,28.40 336.98,28.42 337.63,28.44 338.28,28.46 338.93,28.48 339.58,28.50 340.23,28.52 340.88,28.54 341.53,28.56 342.18,28.58 342.83,28.60 343.48,28.61 344.13,28.63 344.78,28.65 345.43,28.67 346.08,28.69 346.73,28.70 347.38,28.72 348.03,28.74 348.68,28.76 349.33,28.77 349.98,28.79 350.63,28.81 351.28,28.82 351.93,28.84 352.58,28.85 353.23,28.87 353.88,28.89 354.53,28.90 355.18,28.92 355.83,28.93 356.48,28.95 357.13,28.96 357.78,28.98 358.43,28.99 359.08,29.00 359.73,29.02 360.38,29.03 361.02,29.05 361.67,29.06 362.32,29.07 362.97,29.09 363.62,29.10 364.27,29.11 364.92,29.12 365.57,29.14 366.22,29.15 366.87,29.16 367.52,29.17 368.17,29.19 368.82,29.20 369.47,29.21 370.12,29.22 370.77,29.23 371.42,29.24 372.07,29.25 372.72,29.26 373.37,29.28 374.02,29.29 374.67,29.30 375.32,29.31 375.97,29.32 376.62,29.33 377.27,29.34 377.92,29.35 378.57,29.36 379.22,29.37 379.87,29.38 380.52,29.39 381.17,29.40 381.82,29.41 382.47,29.42 383.12,29.43 383.77,29.44 384.42,29.45 385.07,29.46 385.72,29.47 386.36,29.47 387.01,29.48 387.66,29.49 388.31,29.50 388.96,29.51 389.61,29.52 390.26,29.53 390.91,29.54 391.56,29.55 392.21,29.55 392.86,29.56 393.51,29.57 394.16,29.58 394.81,29.59 395.46,29.60 396.11,29.60 396.76,29.61 397.41,29.62 398.06,29.63 398.71,29.64 399.36,29.65 400.01,29.65 400.66,29.66 401.31,29.67 401.96,29.68 402.61,29.68 403.26,29.69 403.91,29.70 404.56,29.71 405.21,29.71 405.86,29.72 406.51,29.73 407.16,29.74 407.81,29.74 408.46,29.75 409.11,29.76 409.76,29.77 410.41,29.77 411.05,29.78 411.70,29.79 412.35,29.80 413.00,29.80 413.65,29.81 414.30,29.82 414.95,29.82 415.60,29.83 416.25,29.84 416.90,29.84 417.55,29.85 418.20,29.86 418.85,29.86 419.50,29.87 420.15,29.88 420.80,29.88 421.45,29.89 422.10,29.90 422.75,29.90 423.40,29.91 424.05,29.92 424.70,29.92 425.35,29.93 426.00,29.94 426.65,29.94 427.30,29.95 427.95,29.96 428.60,29.96 429.25,29.97 429.90,29.97 430.55,29.98 431.20,29.99 431.85,29.99 432.50,30.00 433.15,30.01 433.80,30.01 434.45,30.02 435.10,30.02 435.75,30.03 436.39,30.04 437.04,30.04 437.69,30.05 438.34,30.06 444.76,30.12 451.17,30.17 457.59,30.23 464.00,30.29 470.41,30.35 476.83,30.40 483.24,30.45 489.66,30.50 496.07,30.55 502.49,30.60 508.90,30.64 515.31,30.69 521.73,30.74 528.14,30.78 534.56,30.83 540.97,30.87 547.38,30.92 553.80,30.97 560.21,31.02 566.63,31.07 573.04,31.13 579.45,31.18 585.87,31.24 592.28,31.30 598.70,31.36 605.11,31.43 611.52,31.50 617.94,31.57 624.35,31.64 630.77,31.71 637.18,31.78 643.60,31.86 650.01,31.94 656.42,32.02 662.84,32.10 669.25,32.18 675.67,32.26 682.08,32.35 688.49,32.43" stroke="#008000"/>
<path d="M48.50,341.75 48.82,339.76 49.15,337.84 49.47,335.99 49.80,334.23 50.12,332.56 50.45,331.01 50.77,329.58 51.10,328.21 51.42,326.91 51.75,325.67 52.07,324.48 52.40,323.34 52.72,322.24 53.05,321.19 53.37,320.19 53.70,319.24 54.02,318.35 54.35,317.52 54.67,316.73 55.00,315.96 55.65,314.47 56.30,312.92 56.95,311.20 57.60,309.14 58.25,306.60 58.90,303.62 59.55,300.47 60.20,297.44 60.85,294.65 61.49,292.08 62.14,289.68 62.79,287.40 63.44,285.22 64.09,283.11 64.74,281.06 65.39,279.06 66.04,277.09 66.69,275.15 67.34,273.24 67.99,271.35 68.64,269.49 69.29,267.65 69.94,265.84 70.59,264.06 71.24,262.30 71.89,260.57 72.54,258.84 73.19,257.14 73.84,255.43 74.49,253.74 75.14,252.05 75.79,250.35 76.44,248.66 77.09,246.97 77.74,245.28 78.39,243.59 79.04,241.91 79.69,240.23 80.34,238.56 80.99,236.90 81.64,235.25 82.29,233.62 82.94,232.00 83.59,230.40 84.24,228.82 84.89,227.26 85.54,225.72 86.18,224.20 86.83,222.70 87.48,221.22 88.13,219.75 88.78,218.29 89.43,216.86 90.08,215.44 90.73,214.03 91.38,212.64 92.03,211.27 92.68,209.91 93.33,208.56 93.98,207.23 94.63,205.91 95.28,204.61 95.93,203.31 96.58,202.03 97.23,200.76 97.88,199.50 98.53,198.25 99.18,197.01 99.83,195.78 100.48,194.56 101.13,193.35 101.78,192.15 102.43,190.96 103.08,189.79 103.73,188.63 104.38,187.47 105.03,186.33 105.68,185.21 106.33,184.10 106.98,183.00 107.63,181.92 108.28,180.86 108.93,179.80 109.58,178.77 110.23,177.75 110.88,176.75 111.52,175.76 112.17,174.79 112.82,173.83 113.47,172.88 114.12,171.95 114.77,171.03 115.42,170.12 116.07,169.23 116.72,168.34 117.37,167.47 118.02,166.60 118.67,165.74 119.32,164.90 119.97,164.06 120.62,163.22 121.27,162.40 121.92,161.58 122.57,160.77 123.22,159.96 123.87,159.16 124.52,158.36 125.17,157.57 125.82,156.78 126.47,156.00 127.12,155.22 127.77,154.45 128.42,153.68 129.07,152.91 129.72,152.15 130.37,151.40 131.02,150.65 131.67,149.91 132.32,149.16 132.97,148.43 133.62,147.70 134.27,146.97 134.92,146.24 135.57,145.52 136.21,144.80 136.86,144.08 137.51,143.35 138.16,142.63 138.81,141.91 139.46,141.19 140.11,140.47 140.76,139.74 141.41,139.01 142.06,138.28 142.71,137.55 143.36,136.81 144.01,136.07 144.66,135.32 145.31,134.57 145.96,133.82 146.61,133.06 147.26,132.30 147.91,131.52 148.56,130.74 149.21,129.95 149.86,129.14 150.51,128.32 151.16,127.48 151.81,126.62 152.46,125.73 153.11,124.83 153.76,123.89 154.41,122.93 155.06,121.94 155.71,120.92 156.36,119.87 157.01,118.78 157.66,117.67 158.31,116.53 158.96,115.36 159.61,114.17 160.26,112.95 160.91,111.72 161.55,110.48 162.20,109.22 162.85,107.95 163.50,106.66 164.15,105.36 164.80,104.04 165.45,102.70 166.10,101.33 166.75,99.95 167.40,98.54 168.05,97.11 168.70,95.66 169.35,94.21 170.00,92.74 170.65,91.28 171.30,89.81 171.95,88.36 172.60,86.91 173.25,85.47 173.90,84.04 174.55,82.63 175.20,81.24 175.85,79.85 176.50,78.48 177.15,77.13 177.80,75.80 178.45,74.48 179.10,73.18 179.75,71.90 180.40,70.65 181.05,69.42 181.70,68.21 182.35,67.03 183.00,65.87 183.65,64.74 184.30,63.64 184.95,62.57 185.60,61.51 186.24,60.48 186.89,59.48 187.54,58.49 188.19,57.52 188.84,56.57 189.49,55.64 190.14,54.72 190.79,53.81 191.44,52.93 192.09,52.05 192.74,51.19 193.39,50.34 194.04,49.50 194.69,48.68 195.34,47.88 195.99,47.09 196.64,46.31 197.29,45.56 197.94,44.82 198.59,44.11 199.24,43.41 199.89,42.73 200.54,42.08 201.19,41.44 201.84,40.83 202.49,40.24 203.14,39.67 203.79,39.11 204.44,38.58 205.09,38.06 205.74,37.56 206.39,37.08 207.04,36.60 207.69,36.15 208.34,35.70 208.99,35.26 209.64,34.84 210.29,34.42 210.94,34.01 211.58,33.62 212.23,33.22 212.88,32.84 213.53,32.46 214.18,32.08 214.83,31.71 215.48,31.34 216.13,30.98 216.78,30.62 217.43,30.26 218.08,29.91 218.73,29.56 219.38,29.21 220.03,28.87 220.68,28.53 221.33,28.20 221.98,27.87 222.63,27.56 223.28,27.26 223.93,26.98 224.58,26.70 225.23,26.45 225.88,26.20 226.53,25.98 227.18,25.76 227.83,25.56 228.48,25.37 229.13,25.19 229.78,25.02 230.43,24.86 231.08,24.70 231.73,24.55 232.38,24.41 233.03,24.28 233.68,24.15 234.33,24.03 234.98,23.92 235.63,23.81 236.27,23.72 236.92,23.63 237.57,23.55 238.22,23.48 238.87,23.41 239.52,23.36 240.17,23.30 240.82,23.25 241.47,23.21 242.12,23.17 242.77,23.13 243.42,23.09 244.07,23.06 244.72,23.02 245.37,22.99 246.02,22.96 246.67,22.93 247.32,22.90 247.97,22.87 248.62,22.85 249.27,22.82 249.92,22.80 250.57,22.78 251.22,22.76 251.87,22.74 252.52,22.72 253.17,22.71 253.82,22.70 254.47,22.68 255.12,22.68 255.77,22.67 256.42,22.66 257.07,22.66 257.72,22.66 258.37,22.66 259.02,22.66 259.67,22.67 260.32,22.68 260.96,22.69 261.61,22.70 262.26,22.71 262.91,22.73 263.56,22.75 264.21,22.77 264.86,22.79 265.51,22.81 266.16,22.83 266.81,22.86 267.46,22.88 268.11,22.91 268.76,22.93 269.41,22.96 270.06,22.99 270.71,23.01 271.36,23.04 272.01,23.07 272.66,23.11 273.31,23.14 273.96,23.17 274.61,23.21 275.26,23.25 275.91,23.29 276.56,23.33 277.21,23.37 277.86,23.41 278.51,23.45 279.16,23.50 279.81,23.54 280.46,23.59 281.11,23.63 281.76,23.68 282.41,23.72 283.06,23.77 283.71,23.81 284.36,23.86 285.01,23.90 285.66,23.95 286.30,23.99 286.95,24.03 287.60,24.08 288.25,24.12 288.90,24.16 289.55,24.20 290.20,24.24 290.85,24.28 291.50,24.32 292.15,24.36 292.80,24.39 293.45,24.43 294.10,24.47 294.75,24.51 295.40,24.55 296.05,24.59 296.70,24.63 297.35,24.66 298.00,24.70 298.65,24.74 299.30,24.78 299.95,24.82 300.60,24.86 301.25,24.90 301.90,24.94 302.55,24.98 303.20,25.02 303.85,25.07 304.50,25.11 305.15,25.15 305.80,25.20 306.45,25.24 307.10,25.29 307.75,25.33 308.40,25.38 309.05,25.42 309.70,25.47 310.35,25.52 310.99,25.56 311.64,25.61 312.29,25.66 312.94,25.71 313.59,25.76 314.24,25.81 314.89,25.86 315.54,25.91 316.19,25.96 316.84,26.01 317.49,26.06 318.14,26.11 318.79,26.16 319.44,26.21 320.09,26.26 320.74,26.31 321.39,26.36 322.04,26.41 322.69,26.46 323.34,26.51 323.99,26.56 324.64,26.62 325.29,26.67 325.94,26.72 326.59,26.77 327.24,26.82 327.89,26.87 328.54,26.92 329.19,26.97 329.84,27.03 330.49,27.08 331.14,27.13 331.79,27.18 332.44,27.23 333.09,27.28 333.74,27.33 334.39,27.38 335.04,27.43 335.69,27.47 336.33,27.52 336.98,27.57 337.63,27.62 338.28,27.67 338.93,27.71 339.58,27.76 340.23,27.81 340.88,27.85 341.53,27.90 342.18,27.94 342.83,27.99 343.48,28.03 344.13,28.08 344.78,28.12 345.43,28.16 346.08,28.20 346.73,28.24 347.38,28.29 348.03,28.33 348.68,28.36 349.33,28.40 349.98,28.44 350.63,28.48 351.28,28.51 351.93,28.55 352.58,28.59 353.23,28.62 353.88,28.65 354.53,28.69 355.18,28.72 355.83,28.75 356.48,28.78 357.13,28.81 357.78,28.84 358.43,28.86 359.08,28.89 359.73,28.92 360.38,28.94 361.02,28.96 361.67,28.99 362.32,29.01 362.97,29.03 363.62,29.05 364.27,29.07 364.92,29.09 365.57,29.10 366.22,29.12 366.87,29.14 367.52,29.15 368.17,29.16 368.82,29.18 369.47,29.19 370.12,29.20 370.77,29.21 371.42,29.22 372.07,29.23 372.72,29.25 373.37,29.25 374.02,29.26 374.67,29.27 375.32,29.28 375.97,29.29 376.62,29.30 377.27,29.31 377.92,29.32 378.57,29.32 379.22,29.33 379.87,29.34 380.52,29.34 381.17,29.35 381.82,29.36 382.47,29.37 383.12,29.37 383.77,29.38 384.42,29.38 385.07,29.39 385.72,29.40 386.36,29.40 387.01,29.41 387.66,29.41 388.31,29.42 388.96,29.43 389.61,29.43 390.26,29.44 390.91,29.44 391.56,29.45 392.21,29.45 392.86,29.46 393.51,29.46 394.16,29.47 394.81,29.47 395.46,29.48 396.11,29.48 396.76,29.49 397.41,29.49 398.06,29.50 398.71,29.50 399.36,29.51 400.01,29.51 400.66,29.51 401.31,29.52 401.96,29.52 402.61,29.53 403.26,29.53 403.91,29.53 404.56,29.54 405.21,29.54 405.86,29.55 406.51,29.55 407.16,29.55 407.81,29.56 408.46,29.56 409.11,29.57 409.76,29.57 410.41,29.57 411.05,29.58 411.70,29.58 412.35,29.58 413.00,29.59 413.65,29.59 414.30,29.60 414.95,29.60 415.60,29.60 416.25,29.61 416.90,29.61 417.55,29.61 418.20,29.62 418.85,29.62 419.50,29.62 420.15,29.63 420.80,29.63 421.45,29.63 422.10,29.64 422.75,29.64 423.40,29.65 424.05,29.65 424.70,29.65 425.35,29.66 426.00,29.66 426.65,29.66 427.30,29.67 427.95,29.67 428.60,29.67 429.25,29.68 429.90,29.68 430.55,29.69 431.20,29.69 431.85,29.69 432.50,29.70 433.15,29.70 433.80,29.71 434.45,29.71 435.10,29.71 435.75,29.72 436.39,29.72 437.04,29.73 437.69,29.73 438.34,29.73 444.76,29.78 451.17,29.83 457.59,29.89 464.00,29.96 470.41,30.04 476.83,30.13 483.24,30.23 489.66,30.34 496.07,30.45 502.49,30.58 508.90,30.70 515.31,30.83 521.73,30.96 528.14,31.10 534.56,31.23 540.97,31.37 547.38,31.50 553.80,31.63 560.21,31.76 566.63,31.88 573.04,32.00 579.45,32.11 585.87,32.22 592.28,32.32 598.70,32.42 605.11,32.52 611.52,32.61 617.94,32.70 624.35,32.80 630.77,32.88 637.18,32.97 643.60,33.06 650.01,33.14 656.42,33.22 662.84,33.31 669.25,33.39 675.67,33.46 682.08,33.54 688.49,33.61" stroke="#00ff00"/>
<path d="M48.50,341.75 48.82,339.90 49.15,338.10 49.47,336.37 49.80,334.71 50.12,333.13 50.45,331.65 50.77,330.29 51.10,329.00 51.42,327.77 51.75,326.60 52.07,325.48 52.40,324.41 52.72,323.37 53.05,322.37 53.37,321.40 53.70,320.45 54.02,319.55 54.35,318.68 54.67,317.85 55.00,317.06 55.65,315.55 56.30,314.07 56.95,312.55 57.60,310.93 58.25,309.11 58.90,307.05 59.55,304.74 60.20,302.29 60.85,299.82 61.49,297.44 62.14,295.17 62.79,293.00 63.44,290.92 64.09,288.90 64.74,286.93 65.39,285.01 66.04,283.12 66.69,281.26 67.34,279.43 67.99,277.62 68.64,275.82 69.29,274.04 69.94,272.28 70.59,270.53 71.24,268.80 71.89,267.08 72.54,265.38 73.19,263.70 73.84,262.03 74.49,260.38 75.14,258.74 75.79,257.11 76.44,255.49 77.09,253.88 77.74,252.28 78.39,250.68 79.04,249.09 79.69,247.51 80.34,245.93 80.99,244.36 81.64,242.79 82.29,241.24 82.94,239.69 83.59,238.15 84.24,236.62 84.89,235.11 85.54,233.60 86.18,232.11 86.83,230.63 87.48,229.17 88.13,227.71 88.78,226.27 89.43,224.84 90.08,223.42 90.73,222.02 91.38,220.63 92.03,219.25 92.68,217.88 93.33,216.53 93.98,215.19 94.63,213.86 95.28,212.55 95.93,211.25 96.58,209.96 97.23,208.69 97.88,207.43 98.53,206.18 99.18,204.95 99.83,203.74 100.48,202.54 101.13,201.35 101.78,200.17 102.43,199.01 103.08,197.86 103.73,196.73 104.38,195.60 105.03,194.49 105.68,193.39 106.33,192.30 106.98,191.22 107.63,190.16 108.28,189.10 108.93,188.06 109.58,187.03 110.23,186.01 110.88,185.01 111.52,184.02 112.17,183.04 112.82,182.07 113.47,181.12 114.12,180.19 114.77,179.27 115.42,178.36 116.07,177.47 116.72,176.60 117.37,175.74 118.02,174.89 118.67,174.06 119.32,173.25 119.97,172.44 120.62,171.65 121.27,170.87 121.92,170.10 122.57,169.34 123.22,168.59 123.87,167.85 124.52,167.12 125.17,166.40 125.82,165.68 126.47,164.98 127.12,164.28 127.77,163.59 128.42,162.90 129.07,162.23 129.72,161.57 130.37,160.92 131.02,160.27 131.67,159.64 132.32,159.02 132.97,158.41 133.62,157.81 134.27,157.22 134.92,156.64 135.57,156.07 136.21,155.51 136.86,154.96 137.51,154.42 138.16,153.90 138.81,153.38 139.46,152.88 140.11,152.38 140.76,151.90 141.41,151.42 142.06,150.96 142.71,150.51 143.36,150.06 144.01,149.63 144.66,149.21 145.31,148.79 145.96,148.39 146.61,147.99 147.26,147.60 147.91,147.22 148.56,146.86 149.21,146.50 149.86,146.15 150.51,145.81 151.16,145.47 151.81,145.15 152.46,144.83 153.11,144.53 153.76,144.23 154.41,143.93 155.06,143.65 155.71,143.37 156.36,143.10 157.01,142.83 157.66,142.57 158.31,142.31 158.96,142.06 159.61,141.81 160.26,141.57 160.91,141.32 161.55,141.09 162.20,140.85 162.85,140.62 163.50,140.39 164.15,140.16 164.80,139.93 165.45,139.71 166.10,139.49 166.75,139.27 167.40,139.05 168.05,138.84 168.70,138.63 169.35,138.42 170.00,138.21 170.65,138.01 171.30,137.81 171.95,137.61 172.60,137.42 173.25,137.23 173.90,137.04 174.55,136.86 175.20,136.68 175.85,136.51 176.50,136.34 177.15,136.18 177.80,136.02 178.45,135.86 179.10,135.71 179.75,135.57 180.40,135.43 181.05,135.29 181.70,135.16 182.35,135.03 183.00,134.91 183.65,134.79 184.30,134.68 184.95,134.57 185.60,134.46 186.24,134.36 186.89,134.25 187.54,134.15 188.19,134.06 188.84,133.96 189.49,133.86 190.14,133.77 190.79,133.67 191.44,133.58 192.09,133.48 192.74,133.38 193.39,133.28 194.04,133.17 194.69,133.06 195.34,132.94 195.99,132.82 196.64,132.69 197.29,132.56 197.94,132.42 198.59,132.27 199.24,132.12 199.89,131.96 200.54,131.81 201.19,131.65 201.84,131.48 202.49,131.32 203.14,131.15 203.79,130.98 204.44,130.81 205.09,130.65 205.74,130.48 206.39,130.31 207.04,130.14 207.69,129.97 208.34,129.80 208.99,129.63 209.64,129.46 210.29,129.29 210.94,129.13 211.58,128.96 212.23,128.79 212.88,128.62 213.53,128.45 214.18,128.28 214.83,128.11 215.48,127.95 216.13,127.78 216.78,127.61 217.43,127.44 218.08,127.27 218.73,127.10 219.38,126.93 220.03,126.77 220.68,126.60 221.33,126.43 221.98,126.26 222.63,126.09 223.28,125.92 223.93,125.75 224.58,125.58 225.23,125.41 225.88,125.24 226.53,125.07 227.18,124.89 227.83,124.72 228.48,124.55 229.13,124.37 229.78,124.20 230.43,124.03 231.08,123.85 231.73,123.68 232.38,123.50 233.03,123.33 233.68,123.15 234.33,122.97 234.98,122.80 235.63,122.62 236.27,122.44 236.92,122.27 237.57,122.09 238.22,121.91 238.87,121.73 239.52,121.55 240.17,121.37 240.82,121.19 241.47,121.01 242.12,120.83 242.77,120.65 243.42,120.47 244.07,120.29 244.72,120.10 245.37,119.92 246.02,119.74 246.67,119.56 247.32,119.38 247.97,119.20 248.62,119.02 249.27,118.84 249.92,118.66 250.57,118.47 251.22,118.29 251.87,118.10 252.52,117.91 253.17,117.72 253.82,117.52 254.47,117.33 255.12,117.13 255.77,116.92 256.42,116.72 257.07,116.51 257.72,116.30 258.37,116.08 259.02,115.87 259.67,115.64 260.32,115.42 260.96,115.19 261.61,114.96 262.26,114.72 262.91,114.48 263.56,114.24 264.21,113.99 264.86,113.73 265.51,113.47 266.16,113.20 266.81,112.93 267.46,112.65 268.11,112.36 268.76,112.07 269.41,111.78 270.06,111.48 270.71,111.17 271.36,110.86 272.01,110.55 272.66,110.23 273.31,109.91 273.96,109.58 274.61,109.24 275.26,108.91 275.91,108.57 276.56,108.22 277.21,107.87 277.86,107.51 278.51,107.15 279.16,106.79 279.81,106.42 280.46,106.04 281.11,105.66 281.76,105.27 282.41,104.87 283.06,104.46 283.71,104.04 284.36,103.60 285.01,103.15 285.66,102.69 286.30,102.21 286.95,101.72 287.60,101.23 288.25,100.72 288.90,100.21 289.55,99.70 290.20,99.17 290.85,98.65 291.50,98.11 292.15,97.55 292.80,96.97 293.45,96.36 294.10,95.72 294.75,95.03 295.40,94.30 296.05,93.52 296.70,92.69 297.35,91.82 298.00,90.91 298.65,89.98 299.30,89.03 299.95,88.07 300.60,87.12 301.25,86.17 301.90,85.24 302.55,84.32 303.20,83.41 303.85,82.51 304.50,81.60 305.15,80.68 305.80,79.74 306.45,78.79 307.10,77.82 307.75,76.83 308.40,75.84 309.05,74.83 309.70,73.82 310.35,72.81 310.99,71.81 311.64,70.80 312.29,69.81 312.94,68.82 313.59,67.84 314.24,66.86 314.89,65.88 315.54,64.91 316.19,63.95 316.84,62.98 317.49,62.02 318.14,61.07 318.79,60.12 319.44,59.17 320.09,58.24 320.74,57.32 321.39,56.42 322.04,55.53 322.69,54.66 323.34,53.81 323.99,52.98 324.64,52.16 325.29,51.36 325.94,50.58 326.59,49.81 327.24,49.05 327.89,48.31 328.54,47.59 329.19,46.88 329.84,46.18 330.49,45.49 331.14,44.81 331.79,44.14 332.44,43.48 333.09,42.83 333.74,42.18 334.39,41.53 335.04,40.89 335.69,40.26 336.33,39.64 336.98,39.03 337.63,38.44 338.28,37.86 338.93,37.30 339.58,36.77 340.23,36.25 340.88,35.75 341.53,35.27 342.18,34.81 342.83,34.37 343.48,33.94 344.13,33.53 344.78,33.14 345.43,32.76 346.08,32.40 346.73,32.05 347.38,31.71 348.03,31.38 348.68,31.07 349.33,30.76 349.98,30.47 350.63,30.18 351.28,29.89 351.93,29.62 352.58,29.35 353.23,29.08 353.88,28.82 354.53,28.57 355.18,28.32 355.83,28.08 356.48,27.85 357.13,27.62 357.78,27.40 358.43,27.19 359.08,26.98 359.73,26.79 360.38,26.60 361.02,26.41 361.67,26.24 362.32,26.07 362.97,25.91 363.62,25.76 364.27,25.61 364.92,25.47 365.57,25.33 366.22,25.20 366.87,25.07 367.52,24.95 368.17,24.83 368.82,24.71 369.47,24.60 370.12,24.50 370.77,24.39 371.42,24.30 372.07,24.20 372.72,24.11 373.37,24.02 374.02,23.94 374.67,23.86 375.32,23.79 375.97,23.71 376.62,23.65 377.27,23.58 377.92,23.52 378.57,23.47 379.22,23.41 379.87,23.36 380.52,23.32 381.17,23.28 381.82,23.24 382.47,23.20 383.12,23.17 383.77,23.14 384.42,23.11 385.07,23.08 385.72,23.06 386.36,23.04 387.01,23.02 387.66,23.01 388.31,22.99 388.96,22.98 389.61,22.97 390.26,22.97 390.91,22.96 391.56,22.96 392.21,22.96 392.86,22.96 393.51,22.96 394.16,22.96 394.81,22.97 395.46,22.98 396.11,22.98 396.76,22.99 397.41,23.00 398.06,23.02 398.71,23.03 399.36,23.04 400.01,23.06 400.66,23.07 401.31,23.09 401.96,23.11 402.61,23.13 403.26,23.15 403.91,23.17 404.56,23.19 405.21,23.21 405.86,23.23 406.51,23.26 407.16,23.28 407.81,23.31 408.46,23.33 409.11,23.36 409.76,23.38 410.41,23.41 411.05,23.44 411.70,23.47 412.35,23.50 413.00,23.53 413.65,23.56 414.30,23.59 414.95,23.62 415.60,23.66 416.25,23.69 416.90,23.72 417.55,23.76 418.20,23.80 418.85,23.83 419.50,23.87 420.15,23.91 420.80,23.94 421.45,23.98 422.10,24.02 422.75,24.06 423.40,24.10 424.05,24.15 424.70,24.19 425.35,24.23 426.00,24.27 426.65,24.32 427.30,24.36 427.95,24.41 428.60,24.45 429.25,24.50 429.90,24.55 430.55,24.59 431.20,24.64 431.85,24.69 432.50,24.74 433.15,24.78 433.80,24.83 434.45,24.88 435.10,24.93 435.75,24.98 436.39,25.03 437.04,25.08 437.69,25.13 438.34,25.18 444.76,25.69 451.17,26.19 457.59,26.68 464.00,27.14 470.41,27.57 476.83,27.95 483.24,28.26 489.66,28.50 496.07,28.68 502.49,28.83 508.90,28.95 515.31,29.05 521.73,29.14 528.14,29.22 534.56,29.29 540.97,29.35 547.38,29.42 553.80,29.47 560.21,29.53 566.63,29.59 573.04,29.64 579.45,29.70 585.87,29.76 592.28,29.83 598.70,29.89 605.11,29.96 611.52,30.04 617.94,30.11 624.35,30.18 630.77,30.25 637.18,30.33 643.60,30.40 650.01,30.48 656.42,30.55 662.84,30.62 669.25,30.69 675.67,30.77 682.08,30.84 688.49,30.91" stroke="#ff8000"/>
<path d="M48.50,341.75 48.82,339.92 49.15,338.17 49.47,336.55 49.80,335.00 50.12,333.51 50.45,332.09 50.77,330.79 51.10,329.56 51.42,328.38 51.75,327.25 52.07,326.17 52.40,325.12 52.72,324.10 53.05,323.12 53.37,322.17 53.70,321.24 54.02,320.35 54.35,319.48 54.67,318.64 55.00,317.83 55.65,316.28 56.30,314.83 56.95,313.49 57.60,312.25 58.25,311.01 58.90,309.61 59.55,307.88 60.20,305.75 60.85,303.30 61.49,300.74 62.14,298.25 62.79,295.92 63.44,293.77 64.09,291.77 64.74,289.89 65.39,288.09 66.04,286.36 66.69,284.68 67.34,283.04 67.99,281.41 68.64,279.80 69.29,278.19 69.94,276.57 70.59,274.94 71.24,273.30 71.89,271.63 72.54,269.96 73.19,268.27 73.84,266.58 74.49,264.89 75.14,263.19 75.79,261.51 76.44,259.82 77.09,258.15 77.74,256.49 78.39,254.85 79.04,253.21 79.69,251.60 80.34,250.00 80.99,248.42 81.64,246.85 82.29,245.30 82.94,243.76 83.59,242.24 84.24,240.73 84.89,239.24 85.54,237.75 86.18,236.27 86.83,234.80 87.48,233.34 88.13,231.88 88.78,230.43 89.43,228.97 90.08,227.52 90.73,226.07 91.38,224.63 92.03,223.18 92.68,221.73 93.33,220.28 93.98,218.83 94.63,217.39 95.28,215.96 95.93,214.53 96.58,213.12 97.23,211.73 97.88,210.36 98.53,209.02 99.18,207.71 99.83,206.43 100.48,205.19 101.13,203.98 101.78,202.82 102.43,201.71 103.08,200.63 103.73,199.60 104.38,198.61 105.03,197.66 105.68,196.74 106.33,195.86 106.98,195.01 107.63,194.19 108.28,193.39 108.93,192.62 109.58,191.87 110.23,191.13 110.88,190.41 111.52,189.70 112.17,189.00 112.82,188.30 113.47,187.60 114.12,186.90 114.77,186.20 115.42,185.49 116.07,184.77 116.72,184.04 117.37,183.29 118.02,182.52 118.67,181.73 119.32,180.92 119.97,180.09 120.62,179.23 121.27,178.35 121.92,177.45 122.57,176.53 123.22,175.61 123.87,174.68 124.52,173.76 125.17,172.85 125.82,171.95 126.47,171.08 127.12,170.24 127.77,169.43 128.42,168.65 129.07,167.91 129.72,167.20 130.37,166.51 131.02,165.86 131.67,165.22 132.32,164.61 132.97,164.02 133.62,163.44 134.27,162.87 134.92,162.32 135.57,161.77 136.21,161.24 136.86,160.72 137.51,160.20 138.16,159.70 138.81,159.21 139.46,158.72 140.11,158.25 140.76,157.78 141.41,157.33 142.06,156.88 142.71,156.44 143.36,156.02 144.01,155.60 144.66,155.19 145.31,154.78 145.96,154.39 146.61,154.01 147.26,153.63 147.91,153.26 148.56,152.91 149.21,152.55 149.86,152.21 150.51,151.87 151.16,151.54 151.81,151.21 152.46,150.89 153.11,150.58 153.76,150.26 154.41,149.95 155.06,149.65 155.71,149.34 156.36,149.04 157.01,148.74 157.66,148.45 158.31,148.15 158.96,147.86 159.61,147.58 160.26,147.30 160.91,147.02 161.55,146.75 162.20,146.49 162.85,146.23 163.50,145.97 164.15,145.72 164.80,145.48 165.45,145.23 166.10,144.99 166.75,144.76 167.40,144.52 168.05,144.29 168.70,144.06 169.35,143.84 170.00,143.61 170.65,143.39 171.30,143.18 171.95,142.96 172.60,142.76 173.25,142.55 173.90,142.35 174.55,142.16 175.20,141.98 175.85,141.79 176.50,141.62 177.15,141.45 177.80,141.29 178.45,141.14 179.10,140.99 179.75,140.84 180.40,140.71 181.05,140.57 181.70,140.45 182.35,140.33 183.00,140.22 183.65,140.11 184.30,140.01 184.95,139.91 185.60,139.81 186.24,139.72 186.89,139.62 187.54,139.53 188.19,139.43 188.84,139.34 189.49,139.24 190.14,139.14 190.79,139.04 191.44,138.94 192.09,138.83 192.74,138.73 193.39,138.63 194.04,138.53 194.69,138.43 195.34,138.33 195.99,138.24 196.64,138.16 197.29,138.07 197.94,137.99 198.59,137.91 199.24,137.84 199.89,137.76 200.54,137.69 201.19,137.62 201.84,137.55 202.49,137.48 203.14,137.41 203.79,137.35 204.44,137.30 205.09,137.25 205.74,137.21 206.39,137.17 207.04,137.14 207.69,137.11 208.34,137.10 208.99,137.08 209.64,137.07 210.29,137.07 210.94,137.06 211.58,137.06 212.23,137.06 212.88,137.06 213.53,137.06 214.18,137.06 214.83,137.06 215.48,137.06 216.13,137.06 216.78,137.05 217.43,137.05 218.08,137.05 218.73,137.05 219.38,137.05 220.03,137.04 220.68,137.04 221.33,137.03 221.98,137.02 222.63,137.01 223.28,137.00 223.93,136.99 224.58,136.97 225.23,136.95 225.88,136.93 226.53,136.91 227.18,136.89 227.83,136.86 228.48,136.83 229.13,136.80 229.78,136.77 230.43,136.74 231.08,136.70 231.73,136.67 232.38,136.63 233.03,136.59 233.68,136.55 234.33,136.51 234.98,136.47 235.63,136.43 236.27,136.38 236.92,136.34 237.57,136.30 238.22,136.25 238.87,136.21 239.52,136.16 240.17,136.11 240.82,136.07 241.47,136.02 242.12,135.97 242.77,135.93 243.42,135.88 244.07,135.84 244.72,135.79 245.37,135.75 246.02,135.70 246.67,135.66 247.32,135.61 247.97,135.57 248.62,135.53 249.27,135.49 249.92,135.45 250.57,135.41 251.22,135.37 251.87,135.34 252.52,135.30 253.17,135.27 253.82,135.24 254.47,135.21 255.12,135.18 255.77,135.16 256.42,135.13 257.07,135.11 257.72,135.09 258.37,135.07 259.02,135.05 259.67,135.04 260.32,135.02 260.96,135.01 261.61,135.00 262.26,134.99 262.91,134.98 263.56,134.97 264.21,134.95 264.86,134.94 265.51,134.94 266.16,134.93 266.81,134.92 267.46,134.91 268.11,134.90 268.76,134.89 269.41,134.88 270.06,134.87 270.71,134.87 271.36,134.86 272.01,134.85 272.66,134.84 273.31,134.84 273.96,134.83 274.61,134.82 275.26,134.82 275.91,134.81 276.56,134.81 277.21,134.80 277.86,134.79 278.51,134.79 279.16,134.78 279.81,134.78 280.46,134.77 281.11,134.77 281.76,134.76 282.41,134.76 283.06,134.75 283.71,134.75 284.36,134.74 285.01,134.74 285.66,134.73 286.30,134.73 286.95,134.72 287.60,134.72 288.25,134.71 288.90,134.71 289.55,134.71 290.20,134.70 290.85,134.70 291.50,134.69 292.15,134.69 292.80,134.68 293.45,134.68 294.10,134.67 294.75,134.67 295.40,134.66 296.05,134.66 296.70,134.66 297.35,134.65 298.00,134.65 298.65,134.64 299.30,134.64 299.95,134.63 300.60,134.63 301.25,134.62 301.90,134.61 302.55,134.61 303.20,134.60 303.85,134.60 304.50,134.59 305.15,134.58 305.80,134.58 306.45,134.57 307.10,134.56 307.75,134.56 308.40,134.55 309.05,134.54 309.70,134.54 310.35,134.53 310.99,134.52 311.64,134.51 312.29,134.50 312.94,134.49 313.59,134.48 314.24,134.48 314.89,134.47 315.54,134.46 316.19,134.45 316.84,134.44 317.49,134.42 318.14,134.41 318.79,134.40 319.44,134.39 320.09,134.38 320.74,134.36 321.39,134.35 322.04,134.33 322.69,134.31 323.34,134.29 323.99,134.27 324.64,134.24 325.29,134.22 325.94,134.19 326.59,134.16 327.24,134.13 327.89,134.09 328.54,134.06 329.19,134.02 329.84,133.98 330.49,133.94 331.14,133.90 331.79,133.86 332.44,133.81 333.09,133.77 333.74,133.73 334.39,133.68 335.04,133.64 335.69,133.59 336.33,133.55 336.98,133.50 337.63,133.46 338.28,133.41 338.93,133.37 339.58,133.33 340.23,133.29 340.88,133.25 341.53,133.21 342.18,133.17 342.83,133.14 343.48,133.10 344.13,133.07 344.78,133.04 345.43,133.01 346.08,132.98 346.73,132.96 347.38,132.94 348.03,132.92 348.68,132.90 349.33,132.88 349.98,132.87 350.63,132.86 351.28,132.85 351.93,132.83 352.58,132.82 353.23,132.81 353.88,132.81 354.53,132.80 355.18,132.79 355.83,132.78 356.48,132.77 357.13,132.77 357.78,132.76 358.43,132.75 359.08,132.75 359.73,132.74 360.38,132.73 361.02,132.73 361.67,132.72 362.32,132.71 362.97,132.71 363.62,132.70 364.27,132.70 364.92,132.69 365.57,132.68 366.22,132.68 366.87,132.67 367.52,132.67 368.17,132.66 368.82,132.66 369.47,132.65 370.12,132.65 370.77,132.64 371.42,132.64 372.07,132.63 372.72,132.63 373.37,132.62 374.02,132.62 374.67,132.61 375.32,132.61 375.97,132.61 376.62,132.60 377.27,132.60 377.92,132.59 378.57,132.59 379.22,132.59 379.87,132.58 380.52,132.58 381.17,132.57 381.82,132.57 382.47,132.57 383.12,132.56 383.77,132.56 384.42,132.56 385.07,132.56 385.72,132.55 386.36,132.55 387.01,132.55 387.66,132.54 388.31,132.54 388.96,132.54 389.61,132.54 390.26,132.53 390.91,132.53 391.56,132.53 392.21,132.53 392.86,132.53 393.51,132.53 394.16,132.52 394.81,132.52 395.46,132.52 396.11,132.52 396.76,132.52 397.41,132.52 398.06,132.52 398.71,132.51 399.36,132.51 400.01,132.51 400.66,132.51 401.31,132.51 401.96,132.51 402.61,132.51 403.26,132.51 403.91,132.51 404.56,132.51 405.21,132.51 405.86,132.51 406.51,132.51 407.16,132.51 407.81,132.51 408.46,132.51 409.11,132.51 409.76,132.51 410.41,132.51 411.05,132.51 411.70,132.51 412.35,132.52 413.00,132.52 413.65,132.52 414.30,132.52 414.95,132.52 415.60,132.52 416.25,132.52 416.90,132.52 417.55,132.53 418.20,132.53 418.85,132.53 419.50,132.53 420.15,132.53 420.80,132.53 421.45,132.54 422.10,132.54 422.75,132.54 423.40,132.54 424.05,132.55 424.70,132.55 425.35,132.55 426.00,132.55 426.65,132.56 427.30,132.56 427.95,132.56 428.60,132.56 429.25,132.57 429.90,132.57 430.55,132.57 431.20,132.58 431.85,132.58 432.50,132.58 433.15,132.58 433.80,132.59 434.45,132.59 435.10,132.60 435.75,132.60 436.39,132.60 437.04,132.61 437.69,132.61 438.34,132.61 444.76,132.65 451.17,132.69 457.59,132.74 464.00,132.79 470.41,132.85 476.83,132.91 483.24,132.99 489.66,133.07 496.07,133.16 502.49,133.26 508.90,133.35 515.31,133.44 521.73,133.53 528.14,133.62 534.56,133.70 540.97,133.79 547.38,133.87 553.80,133.95 560.21,134.03 566.63,134.11 573.04,134.19 579.45,134.27 585.87,134.34 592.28,134.42 598.70,134.50 605.11,134.58 611.52,134.65 617.94,134.73 624.35,134.80 630.77,134.88 637.18,134.95 643.60,135.03 650.01,135.10 656.42,135.18 662.84,135.25 669.25,135.32 675.67,135.39 682.08,135.47 688.49,135.54" stroke="#ffff00"/>
<path d="M48.50,341.75 48.82,339.98 49.15,338.29 49.47,336.72 49.80,335.22 50.12,333.78 50.45,332.41 50.77,331.13 51.10,329.94 51.42,328.80 51.75,327.71 52.07,326.66 52.40,325.64 52.72,324.66 53.05,323.71 53.37,322.78 53.70,321.89 54.02,321.02 54.35,320.17 54.67,319.35 55.00,318.56 55.65,317.04 56.30,315.61 56.95,314.26 57.60,313.01 58.25,311.82 58.90,310.59 59.55,309.19 60.20,307.52 60.85,305.55 61.49,303.36 62.14,301.09 62.79,298.85 63.44,296.74 64.09,294.77 64.74,292.92 65.39,291.18 66.04,289.52 66.69,287.91 67.34,286.35 67.99,284.83 68.64,283.32 69.29,281.83 69.94,280.33 70.59,278.82 71.24,277.29 71.89,275.73 72.54,274.14 73.19,272.52 73.84,270.86 74.49,269.17 75.14,267.46 75.79,265.73 76.44,263.98 77.09,262.23 77.74,260.47 78.39,258.71 79.04,256.97 79.69,255.24 80.34,253.52 80.99,251.83 81.64,250.15 82.29,248.50 82.94,246.87 83.59,245.26 84.24,243.67 84.89,242.10 85.54,240.54 86.18,238.99 86.83,237.46 87.48,235.93 88.13,234.41 88.78,232.90 89.43,231.39 90.08,229.89 90.73,228.38 91.38,226.87 92.03,225.37 92.68,223.86 93.33,222.34 93.98,220.83 94.63,219.32 95.28,217.81 95.93,216.30 96.58,214.80 97.23,213.32 97.88,211.85 98.53,210.40 99.18,208.98 99.83,207.59 100.48,206.24 101.13,204.92 101.78,203.64 102.43,202.40 103.08,201.21 103.73,200.05 104.38,198.94 105.03,197.86 105.68,196.82 106.33,195.82 106.98,194.84 107.63,193.90 108.28,192.98 108.93,192.08 109.58,191.21 110.23,190.35 110.88,189.51 111.52,188.68 112.17,187.86 112.82,187.05 113.47,186.24 114.12,185.44 114.77,184.64 115.42,183.83 116.07,183.03 116.72,182.21 117.37,181.39 118.02,180.56 118.67,179.72 119.32,178.87 119.97,178.02 120.62,177.15 121.27,176.27 121.92,175.40 122.57,174.52 123.22,173.64 123.87,172.77 124.52,171.92 125.17,171.07 125.82,170.25 126.47,169.44 127.12,168.66 127.77,167.91 128.42,167.17 129.07,166.46 129.72,165.77 130.37,165.10 131.02,164.45 131.67,163.82 132.32,163.20 132.97,162.59 133.62,162.00 134.27,161.42 134.92,160.85 135.57,160.30 136.21,159.75 136.86,159.21 137.51,158.69 138.16,158.17 138.81,157.66 139.46,157.17 140.11,156.68 140.76,156.20 141.41,155.74 142.06,155.28 142.71,154.84 143.36,154.40 144.01,153.97 144.66,153.55 145.31,153.14 145.96,152.74 146.61,152.35 147.26,151.97 147.91,151.60 148.56,151.24 149.21,150.88 149.86,150.53 150.51,150.19 151.16,149.86 151.81,149.53 152.46,149.21 153.11,148.89 153.76,148.58 154.41,148.27 155.06,147.96 155.71,147.66 156.36,147.35 157.01,147.05 157.66,146.76 158.31,146.47 158.96,146.18 159.61,145.89 160.26,145.61 160.91,145.33 161.55,145.06 162.20,144.80 162.85,144.54 163.50,144.28 164.15,144.03 164.80,143.79 165.45,143.55 166.10,143.31 166.75,143.07 167.40,142.84 168.05,142.60 168.70,142.38 169.35,142.15 170.00,141.93 170.65,141.71 171.30,141.49 171.95,141.28 172.60,141.07 173.25,140.86 173.90,140.67 174.55,140.47 175.20,140.29 175.85,140.11 176.50,139.93 177.15,139.76 177.80,139.60 178.45,139.45 179.10,139.30 179.75,139.15 180.40,139.02 181.05,138.89 181.70,138.76 182.35,138.64 183.00,138.53 183.65,138.42 184.30,138.32 184.95,138.22 185.60,138.12 186.24,138.03 186.89,137.94 187.54,137.85 188.19,137.76 188.84,137.67 189.49,137.57 190.14,137.48 190.79,137.39 191.44,137.30 192.09,137.20 192.74,137.11 193.39,137.02 194.04,136.93 194.69,136.85 195.34,136.77 195.99,136.69 196.64,136.62 197.29,136.55 197.94,136.49 198.59,136.42 199.24,136.36 199.89,136.30 200.54,136.24 201.19,136.18 201.84,136.12 202.49,136.07 203.14,136.01 203.79,135.96 204.44,135.92 205.09,135.87 205.74,135.84 206.39,135.80 207.04,135.78 207.69,135.76 208.34,135.74 208.99,135.73 209.64,135.72 210.29,135.71 210.94,135.71 211.58,135.71 212.23,135.71 212.88,135.71 213.53,135.71 214.18,135.71 214.83,135.71 215.48,135.71 216.13,135.71 216.78,135.71 217.43,135.71 218.08,135.71 218.73,135.70 219.38,135.70 220.03,135.70 220.68,135.70 221.33,135.70 221.98,135.70 222.63,135.69 223.28,135.69 223.93,135.69 224.58,135.68 225.23,135.68 225.88,135.67 226.53,135.67 227.18,135.66 227.83,135.65 228.48,135.64 229.13,135.64 229.78,135.63 230.43,135.62 231.08,135.61 231.73,135.60 232.38,135.59 233.03,135.58 233.68,135.57 234.33,135.56 234.98,135.55 235.63,135.54 236.27,135.52 236.92,135.51 237.57,135.50 238.22,135.49 238.87,135.48 239.52,135.46 240.17,135.45 240.82,135.44 241.47,135.43 242.12,135.42 242.77,135.40 243.42,135.39 244.07,135.38 244.72,135.37 245.37,135.36 246.02,135.35 246.67,135.34 247.32,135.32 247.97,135.31 248.62,135.30 249.27,135.29 249.92,135.29 250.57,135.28 251.22,135.27 251.87,135.26 252.52,135.25 253.17,135.24 253.82,135.24 254.47,135.23 255.12,135.23 255.77,135.22 256.42,135.22 257.07,135.21 257.72,135.21 258.37,135.21 259.02,135.20 259.67,135.20 260.32,135.20 260.96,135.20 261.61,135.20 262.26,135.20 262.91,135.20 263.56,135.20 264.21,135.20 264.86,135.19 265.51,135.19 266.16,135.19 266.81,135.19 267.46,135.19 268.11,135.19 268.76,135.19 269.41,135.19 270.06,135.19 270.71,135.19 271.36,135.19 272.01,135.19 272.66,135.19 273.31,135.19 273.96,135.19 274.61,135.18 275.26,135.18 275.91,135.18 276.56,135.18 277.21,135.18 277.86,135.18 278.51,135.18 279.16,135.18 279.81,135.18 280.46,135.18 281.11,135.18 281.76,135.18 282.41,135.18 283.06,135.18 283.71,135.18 284.36,135.18 285.01,135.18 285.66,135.18 286.30,135.17 286.95,135.17 287.60,135.17 288.25,135.17 288.90,135.17 289.55,135.17 290.20,135.17 290.85,135.17 291.50,135.17 292.15,135.17 292.80,135.17 293.45,135.17 294.10,135.17 294.75,135.17 295.40,135.17 296.05,135.17 296.70,135.17 297.35,135.17 298.00,135.17 298.65,135.17 299.30,135.17 299.95,135.16 300.60,135.16 301.25,135.16 301.90,135.16 302.55,135.16 303.20,135.16 303.85,135.16 304.50,135.16 305.15,135.16 305.80,135.16 306.45,135.16 307.10,135.16 307.75,135.16 308.40,135.16 309.05,135.16 309.70,135.16 310.35,135.16 310.99,135.16 311.64,135.16 312.29,135.16 312.94,135.16 313.59,135.16 314.24,135.16 314.89,135.16 315.54,135.15 316.19,135.15 316.84,135.15 317.49,135.15 318.14,135.15 318.79,135.15 319.44,135.15 320.09,135.15 320.74,135.15 321.39,135.15 322.04,135.15 322.69,135.15 323.34,135.15 323.99,135.15 324.64,135.15 325.29,135.15 325.94,135.15 326.59,135.15 327.24,135.15 327.89,135.15 328.54,135.15 329.19,135.15 329.84,135.15 330.49,135.15 331.14,135.15 331.79,135.15 332.44,135.15 333.09,135.15 333.74,135.15 334.39,135.15 335.04,135.15 335.69,135.15 336.33,135.15 336.98,135.14 337.63,135.14 338.28,135.14 338.93,135.14 339.58,135.14 340.23,135.14 340.88,135.14 341.53,135.14 342.18,135.14 342.83,135.14 343.48,135.14 344.13,135.14 344.78,135.14 345.43,135.14 346.08,135.14 346.73,135.14 347.38,135.14 348.03,135.14 348.68,135.14 349.33,135.14 349.98,135.14 350.63,135.14 351.28,135.14 351.93,135.14 352.58,135.14 353.23,135.14 353.88,135.14 354.53,135.14 355.18,135.14 355.83,135.14 356.48,135.14 357.13,135.14 357.78,135.14 358.43,135.14 359.08,135.14 359.73,135.14 360.38,135.14 361.02,135.14 361.67,135.14 362.32,135.14 362.97,135.14 363.62,135.14 364.27,135.14 364.92,135.14 365.57,135.14 366.22,135.14 366.87,135.14 367.52,135.14 368.17,135.14 368.82,135.14 369.47,135.14 370.12,135.14 370.77,135.14 371.42,135.14 372.07,135.14 372.72,135.14 373.37,135.14 374.02,135.13 374.67,135.13 375.32,135.13 375.97,135.13 376.62,135.13 377.27,135.13 377.92,135.13 378.57,135.13 379.22,135.13 379.87,135.13 380.52,135.13 381.17,135.13 381.82,135.13 382.47,135.13 383.12,135.13 383.77,135.13 384.42,135.13 385.07,135.13 385.72,135.13 386.36,135.13 387.01,135.13 387.66,135.13 388.31,135.13 388.96,135.13 389.61,135.13 390.26,135.13 390.91,135.13 391.56,135.13 392.21,135.13 392.86,135.13 393.51,135.13 394.16,135.13 394.81,135.13 395.46,135.13 396.11,135.13 396.76,135.13 397.41,135.13 398.06,135.13 398.71,135.13 399.36,135.13 400.01,135.13 400.66,135.13 401.31,135.13 401.96,135.13 402.61,135.13 403.26,135.13 403.91,135.13 404.56,135.13 405.21,135.13 405.86,135.13 406.51,135.13 407.16,135.13 407.81,135.13 408.46,135.13 409.11,135.13 409.76,135.13 410.41,135.13 411.05,135.13 411.70,135.13 412.35,135.13 413.00,135.13 413.65,135.13 414.30,135.13 414.95,135.13 415.60,135.13 416.25,135.13 416.90,135.13 417.55,135.13 418.20,135.13 418.85,135.13 419.50,135.13 420.15,135.13 420.80,135.13 421.45,135.14 422.10,135.14 422.75,135.14 423.40,135.14 424.05,135.14 424.70,135.14 425.35,135.14 426.00,135.14 426.65,135.14 427.30,135.14 427.95,135.14 428.60,135.14 429.25,135.14 429.90,135.14 430.55,135.14 431.20,135.14 431.85,135.14 432.50,135.14 433.15,135.14 433.80,135.14 434.45,135.14 435.10,135.14 435.75,135.14 436.39,135.14 437.04,135.14 437.69,135.14 438.34,135.14 444.76,135.14 451.17,135.15 457.59,135.15 464.00,135.16 470.41,135.16 476.83,135.17 483.24,135.18 489.66,135.18 496.07,135.19 502.49,135.20 508.90,135.21 515.31,135.22 521.73,135.23 528.14,135.24 534.56,135.25 540.97,135.26 547.38,135.27 553.80,135.28 560.21,135.30 566.63,135.31 573.04,135.32 579.45,135.34 585.87,135.35 592.28,135.37 598.70,135.38 605.11,135.40 611.52,135.41 617.94,135.43 624.35,135.45 630.77,135.47 637.18,135.48 643.60,135.50 650.01,135.52 656.42,135.54 662.84,135.56 669.25,135.58 675.67,135.60 682.08,135.62 688.49,135.64" stroke="#00ffff"/>
<path d="M48.50,341.75 48.82,340.04 49.15,338.40 49.47,336.88 49.80,335.43 50.12,334.03 50.45,332.70 50.77,331.45 51.10,330.29 51.42,329.19 51.75,328.13 52.07,327.11 52.40,326.13 52.72,325.18 53.05,324.26 53.37,323.37 53.70,322.50 54.02,321.65 54.35,320.82 54.67,320.01 55.00,319.22 55.65,317.71 56.30,316.28 56.95,314.91 57.60,313.61 58.25,312.37 58.90,311.16 59.55,309.89 60.20,308.52 60.85,307.01 61.49,305.37 62.14,303.62 62.79,301.82 63.44,300.01 64.09,298.23 64.74,296.50 65.39,294.82 66.04,293.18 66.69,291.58 67.34,290.01 67.99,288.46 68.64,286.93 69.29,285.40 69.94,283.88 70.59,282.36 71.24,280.83 71.89,279.28 72.54,277.72 73.19,276.13 73.84,274.51 74.49,272.87 75.14,271.20 75.79,269.50 76.44,267.78 77.09,266.04 77.74,264.28 78.39,262.50 79.04,260.73 79.69,258.95 80.34,257.17 80.99,255.40 81.64,253.64 82.29,251.90 82.94,250.17 83.59,248.45 84.24,246.74 84.89,245.06 85.54,243.38 86.18,241.72 86.83,240.07 87.48,238.43 88.13,236.79 88.78,235.17 89.43,233.55 90.08,231.93 90.73,230.33 91.38,228.72 92.03,227.12 92.68,225.52 93.33,223.92 93.98,222.32 94.63,220.73 95.28,219.14 95.93,217.56 96.58,215.98 97.23,214.42 97.88,212.87 98.53,211.35 99.18,209.85 99.83,208.37 100.48,206.93 101.13,205.52 101.78,204.15 102.43,202.82 103.08,201.53 103.73,200.28 104.38,199.06 105.03,197.88 105.68,196.74 106.33,195.63 106.98,194.55 107.63,193.50 108.28,192.47 108.93,191.47 109.58,190.49 110.23,189.52 110.88,188.57 111.52,187.64 112.17,186.72 112.82,185.80 113.47,184.90 114.12,184.00 114.77,183.11 115.42,182.22 116.07,181.33 116.72,180.44 117.37,179.55 118.02,178.66 118.67,177.77 119.32,176.88 119.97,176.00 120.62,175.11 121.27,174.23 121.92,173.35 122.57,172.48 123.22,171.63 123.87,170.78 124.52,169.95 125.17,169.14 125.82,168.34 126.47,167.56 127.12,166.81 127.77,166.07 128.42,165.35 129.07,164.65 129.72,163.96 130.37,163.29 131.02,162.64 131.67,162.00 132.32,161.38 132.97,160.76 133.62,160.16 134.27,159.57 134.92,158.99 135.57,158.43 136.21,157.87 136.86,157.32 137.51,156.79 138.16,156.26 138.81,155.74 139.46,155.24 140.11,154.75 140.76,154.26 141.41,153.79 142.06,153.32 142.71,152.87 143.36,152.43 144.01,151.99 144.66,151.57 145.31,151.15 145.96,150.75 146.61,150.35 147.26,149.97 147.91,149.59 148.56,149.23 149.21,148.87 149.86,148.52 150.51,148.17 151.16,147.84 151.81,147.51 152.46,147.18 153.11,146.87 153.76,146.55 154.41,146.24 155.06,145.93 155.71,145.63 156.36,145.33 157.01,145.03 157.66,144.73 158.31,144.44 158.96,144.15 159.61,143.87 160.26,143.58 160.91,143.31 161.55,143.04 162.20,142.77 162.85,142.51 163.50,142.26 164.15,142.01 164.80,141.76 165.45,141.52 166.10,141.28 166.75,141.05 167.40,140.82 168.05,140.59 168.70,140.36 169.35,140.14 170.00,139.92 170.65,139.70 171.30,139.49 171.95,139.29 172.60,139.09 173.25,138.90 173.90,138.71 174.55,138.53 175.20,138.36 175.85,138.20 176.50,138.04 177.15,137.89 177.80,137.74 178.45,137.60 179.10,137.47 179.75,137.35 180.40,137.23 181.05,137.11 181.70,137.01 182.35,136.91 183.00,136.81 183.65,136.72 184.30,136.64 184.95,136.56 185.60,136.48 186.24,136.40 186.89,136.32 187.54,136.24 188.19,136.16 188.84,136.08 189.49,135.99 190.14,135.90 190.79,135.81 191.44,135.71 192.09,135.61 192.74,135.52 193.39,135.42 194.04,135.32 194.69,135.22 195.34,135.13 195.99,135.04 196.64,134.95 197.29,134.87 197.94,134.79 198.59,134.71 199.24,134.63 199.89,134.56 200.54,134.48 201.19,134.41 201.84,134.34 202.49,134.27 203.14,134.21 203.79,134.15 204.44,134.09 205.09,134.04 205.74,134.00 206.39,133.96 207.04,133.93 207.69,133.91 208.34,133.89 208.99,133.88 209.64,133.87 210.29,133.86 210.94,133.86 211.58,133.85 212.23,133.85 212.88,133.85 213.53,133.85 214.18,133.85 214.83,133.85 215.48,133.85 216.13,133.85 216.78,133.85 217.43,133.85 218.08,133.85 218.73,133.85 219.38,133.85 220.03,133.85 220.68,133.84 221.33,133.84 221.98,133.84 222.63,133.84 223.28,133.83 223.93,133.83 224.58,133.82 225.23,133.82 225.88,133.81 226.53,133.81 227.18,133.80 227.83,133.79 228.48,133.78 229.13,133.77 229.78,133.76 230.43,133.75 231.08,133.74 231.73,133.73 232.38,133.72 233.03,133.71 233.68,133.70 234.33,133.69 234.98,133.68 235.63,133.66 236.27,133.65 236.92,133.64 237.57,133.63 238.22,133.61 238.87,133.60 239.52,133.59 240.17,133.57 240.82,133.56 241.47,133.55 242.12,133.53 242.77,133.52 243.42,133.51 244.07,133.50 244.72,133.48 245.37,133.47 246.02,133.46 246.67,133.45 247.32,133.44 247.97,133.43 248.62,133.41 249.27,133.40 249.92,133.39 250.57,133.39 251.22,133.38 251.87,133.37 252.52,133.36 253.17,133.35 253.82,133.35 254.47,133.34 255.12,133.33 255.77,133.33 256.42,133.32 257.07,133.32 257.72,133.32 258.37,133.32 259.02,133.31 259.67,133.31 260.32,133.31 260.96,133.31 261.61,133.31 262.26,133.31 262.91,133.31 263.56,133.31 264.21,133.31 264.86,133.31 265.51,133.31 266.16,133.31 266.81,133.31 267.46,133.31 268.11,133.31 268.76,133.31 269.41,133.31 270.06,133.31 270.71,133.31 271.36,133.31 272.01,133.32 272.66,133.32 273.31,133.32 273.96,133.32 274.61,133.32 275.26,133.32 275.91,133.32 276.56,133.32 277.21,133.32 277.86,133.32 278.51,133.32 279.16,133.32 279.81,133.32 280.46,133.32 281.11,133.32 281.76,133.33 282.41,133.33 283.06,133.33 283.71,133.33 284.36,133.33 285.01,133.33 285.66,133.33 286.30,133.33 286.95,133.33 287.60,133.33 288.25,133.33 288.90,133.34 289.55,133.34 290.20,133.34 290.85,133.34 291.50,133.34 292.15,133.34 292.80,133.34 293.45,133.34 294.10,133.35 294.75,133.35 295.40,133.35 296.05,133.35 296.70,133.35 297.35,133.35 298.00,133.35 298.65,133.35 299.30,133.36 299.95,133.36 300.60,133.36 301.25,133.36 301.90,133.36 302.55,133.36 303.20,133.36 303.85,133.36 304.50,133.37 305.15,133.37 305.80,133.37 306.45,133.37 307.10,133.37 307.75,133.37 308.40,133.38 309.05,133.38 309.70,133.38 310.35,133.38 310.99,133.38 311.64,133.38 312.29,133.38 312.94,133.39 313.59,133.39 314.24,133.39 314.89,133.39 315.54,133.39 316.19,133.39 316.84,133.40 317.49,133.40 318.14,133.40 318.79,133.40 319.44,133.40 320.09,133.40 320.74,133.41 321.39,133.41 322.04,133.41 322.69,133.41 323.34,133.41 323.99,133.41 324.64,133.42 325.29,133.42 325.94,133.42 326.59,133.42 327.24,133.42 327.89,133.42 328.54,133.43 329.19,133.43 329.84,133.43 330.49,133.43 331.14,133.43 331.79,133.43 332.44,133.44 333.09,133.44 333.74,133.44 334.39,133.44 335.04,133.44 335.69,133.44 336.33,133.45 336.98,133.45 337.63,133.45 338.28,133.45 338.93,133.45 339.58,133.45 340.23,133.46 340.88,133.46 341.53,133.46 342.18,133.46 342.83,133.46 343.48,133.47 344.13,133.47 344.78,133.47 345.43,133.47 346.08,133.47 346.73,133.47 347.38,133.48 348.03,133.48 348.68,133.48 349.33,133.48 349.98,133.48 350.63,133.48 351.28,133.49 351.93,133.49 352.58,133.49 353.23,133.49 353.88,133.49 354.53,133.49 355.18,133.50 355.83,133.50 356.48,133.50 357.13,133.50 357.78,133.50 358.43,133.50 359.08,133.50 359.73,133.51 360.38,133.51 361.02,133.51 361.67,133.51 362.32,133.51 362.97,133.51 363.62,133.52 364.27,133.52 364.92,133.52 365.57,133.52 366.22,133.52 366.87,133.52 367.52,133.52 368.17,133.53 368.82,133.53 369.47,133.53 370.12,133.53 370.77,133.53 371.42,133.53 372.07,133.53 372.72,133.53 373.37,133.54 374.02,133.54 374.67,133.54 375.32,133.54 375.97,133.54 376.62,133.54 377.27,133.54 377.92,133.54 378.57,133.55 379.22,133.55 379.87,133.55 380.52,133.55 381.17,133.55 381.82,133.55 382.47,133.55 383.12,133.55 383.77,133.55 384.42,133.56 385.07,133.56 385.72,133.56 386.36,133.56 387.01,133.56 387.66,133.56 388.31,133.56 388.96,133.56 389.61,133.56 390.26,133.56 390.91,133.57 391.56,133.57 392.21,133.57 392.86,133.57 393.51,133.57 394.16,133.57 394.81,133.57 395.46,133.57 396.11,133.57 396.76,133.57 397.41,133.57 398.06,133.57 398.71,133.57 399.36,133.57 400.01,133.57 400.66,133.57 401.31,133.58 401.96,133.58 402.61,133.58 403.26,133.58 403.91,133.58 404.56,133.58 405.21,133.58 405.86,133.58 406.51,133.58 407.16,133.58 407.81,133.58 408.46,133.58 409.11,133.58 409.76,133.58 410.41,133.58 411.05,133.58 411.70,133.58 412.35,133.58 413.00,133.58 413.65,133.58 414.30,133.58 414.95,133.58 415.60,133.58 416.25,133.58 416.90,133.58 417.55,133.59 418.20,133.59 418.85,133.59 419.50,133.59 420.15,133.59 420.80,133.59 421.45,133.59 422.10,133.59 422.75,133.59 423.40,133.59 424.05,133.59 424.70,133.59 425.35,133.59 426.00,133.59 426.65,133.59 427.30,133.59 427.95,133.59 428.60,133.59 429.25,133.59 429.90,133.59 430.55,133.59 431.20,133.59 431.85,133.59 432.50,133.59 433.15,133.59 433.80,133.59 434.45,133.59 435.10,133.59 435.75,133.59 436.39,133.59 437.04,133.59 437.69,133.59 438.34,133.59 444.76,133.60 451.17,133.60 457.59,133.60 464.00,133.60 470.41,133.61 476.83,133.61 483.24,133.61 489.66,133.61 496.07,133.62 502.49,133.62 508.90,133.62 515.31,133.62 521.73,133.62 528.14,133.62 534.56,133.63 540.97,133.63 547.38,133.63 553.80,133.63 560.21,133.63 566.63,133.63 573.04,133.64 579.45,133.64 585.87,133.64 592.28,133.64 598.70,133.64 605.11,133.64 611.52,133.64 617.94,133.64 624.35,133.64 630.77,133.64 637.18,133.64 643.60,133.65 650.01,133.65 656.42,133.65 662.84,133.65 669.25,133.65 675.67,133.65 682.08,133.65 688.49,133.65" stroke="#ff00ff"/>
<path d="M48.50,341.75 48.82,340.09 49.15,338.51 49.47,337.02 49.80,335.62 50.12,334.27 50.45,332.98 50.77,331.76 51.10,330.62 51.42,329.54 51.75,328.51 52.07,327.52 52.40,326.56 52.72,325.64 53.05,324.74 53.37,323.87 53.70,323.01 54.02,322.18 54.35,321.36 54.67,320.56 55.00,319.78 55.65,318.26 56.30,316.82 56.95,315.43 57.60,314.12 58.25,312.86 58.90,311.65 59.55,310.45 60.20,309.22 60.85,307.94 61.49,306.60 62.14,305.21 62.79,303.79 63.44,302.33 64.09,300.85 64.74,299.35 65.39,297.84 66.04,296.32 66.69,294.78 67.34,293.23 67.99,291.67 68.64,290.10 69.29,288.51 69.94,286.92 70.59,285.31 71.24,283.70 71.89,282.07 72.54,280.44 73.19,278.80 73.84,277.16 74.49,275.50 75.14,273.84 75.79,272.17 76.44,270.50 77.09,268.81 77.74,267.12 78.39,265.42 79.04,263.71 79.69,262.00 80.34,260.28 80.99,258.57 81.64,256.85 82.29,255.14 82.94,253.42 83.59,251.71 84.24,250.00 84.89,248.30 85.54,246.59 86.18,244.89 86.83,243.20 87.48,241.50 88.13,239.81 88.78,238.13 89.43,236.45 90.08,234.77 90.73,233.10 91.38,231.44 92.03,229.78 92.68,228.13 93.33,226.48 93.98,224.84 94.63,223.20 95.28,221.58 95.93,219.96 96.58,218.35 97.23,216.75 97.88,215.16 98.53,213.59 99.18,212.03 99.83,210.49 100.48,208.97 101.13,207.48 101.78,206.01 102.43,204.57 103.08,203.16 103.73,201.77 104.38,200.41 105.03,199.08 105.68,197.77 106.33,196.49 106.98,195.24 107.63,194.01 108.28,192.80 108.93,191.61 109.58,190.44 110.23,189.29 110.88,188.16 111.52,187.04 112.17,185.94 112.82,184.86 113.47,183.79 114.12,182.74 114.77,181.70 115.42,180.67 116.07,179.66 116.72,178.66 117.37,177.67 118.02,176.70 118.67,175.74 119.32,174.80 119.97,173.87 120.62,172.95 121.27,172.05 121.92,171.17 122.57,170.30 123.22,169.45 123.87,168.62 124.52,167.81 125.17,167.01 125.82,166.23 126.47,165.47 127.12,164.73 127.77,164.00 128.42,163.29 129.07,162.60 129.72,161.92 130.37,161.26 131.02,160.61 131.67,159.97 132.32,159.35 132.97,158.74 133.62,158.14 134.27,157.55 134.92,156.97 135.57,156.40 136.21,155.84 136.86,155.30 137.51,154.76 138.16,154.23 138.81,153.72 139.46,153.21 140.11,152.72 140.76,152.24 141.41,151.76 142.06,151.30 142.71,150.85 143.36,150.40 144.01,149.97 144.66,149.54 145.31,149.13 145.96,148.72 146.61,148.33 147.26,147.94 147.91,147.57 148.56,147.20 149.21,146.84 149.86,146.49 150.51,146.15 151.16,145.81 151.81,145.48 152.46,145.16 153.11,144.84 153.76,144.53 154.41,144.22 155.06,143.91 155.71,143.61 156.36,143.30 157.01,143.00 157.66,142.71 158.31,142.42 158.96,142.13 159.61,141.84 160.26,141.56 160.91,141.28 161.55,141.01 162.20,140.75 162.85,140.49 163.50,140.23 164.15,139.98 164.80,139.74 165.45,139.50 166.10,139.26 166.75,139.02 167.40,138.79 168.05,138.56 168.70,138.33 169.35,138.11 170.00,137.89 170.65,137.67 171.30,137.46 171.95,137.25 172.60,137.05 173.25,136.85 173.90,136.66 174.55,136.48 175.20,136.30 175.85,136.13 176.50,135.97 177.15,135.81 177.80,135.66 178.45,135.52 179.10,135.38 179.75,135.25 180.40,135.12 181.05,135.00 181.70,134.89 182.35,134.79 183.00,134.69 183.65,134.59 184.30,134.50 184.95,134.41 185.60,134.33 186.24,134.24 186.89,134.16 187.54,134.08 188.19,134.00 188.84,133.92 189.49,133.83 190.14,133.75 190.79,133.66 191.44,133.57 192.09,133.48 192.74,133.39 193.39,133.31 194.04,133.22 194.69,133.14 195.34,133.06 195.99,132.98 196.64,132.91 197.29,132.84 197.94,132.78 198.59,132.72 199.24,132.65 199.89,132.59 200.54,132.53 201.19,132.48 201.84,132.42 202.49,132.36 203.14,132.31 203.79,132.25 204.44,132.20 205.09,132.16 205.74,132.11 206.39,132.08 207.04,132.04 207.69,132.01 208.34,131.99 208.99,131.97 209.64,131.95 210.29,131.94 210.94,131.93 211.58,131.92 212.23,131.91 212.88,131.90 213.53,131.89 214.18,131.89 214.83,131.88 215.48,131.87 216.13,131.87 216.78,131.86 217.43,131.85 218.08,131.84 218.73,131.84 219.38,131.83 220.03,131.82 220.68,131.81 221.33,131.80 221.98,131.79 222.63,131.78 223.28,131.77 223.93,131.76 224.58,131.75 225.23,131.74 225.88,131.73 226.53,131.72 227.18,131.71 227.83,131.70 228.48,131.69 229.13,131.68 229.78,131.67 230.43,131.65 231.08,131.64 231.73,131.63 232.38,131.62 233.03,131.61 233.68,131.60 234.33,131.58 234.98,131.57 235.63,131.56 236.27,131.55 236.92,131.54 237.57,131.53 238.22,131.52 238.87,131.50 239.52,131.49 240.17,131.48 240.82,131.47 241.47,131.46 242.12,131.44 242.77,131.43 243.42,131.42 244.07,131.40 244.72,131.39 245.37,131.38 246.02,131.36 246.67,131.35 247.32,131.33 247.97,131.32 248.62,131.31 249.27,131.29 249.92,131.28 250.57,131.27 251.22,131.25 251.87,131.24 252.52,131.23 253.17,131.22 253.82,131.21 254.47,131.20 255.12,131.19 255.77,131.18 256.42,131.18 257.07,131.17 257.72,131.16 258.37,131.16 259.02,131.16 259.67,131.15 260.32,131.15 260.96,131.15 261.61,131.15 262.26,131.15 262.91,131.15 263.56,131.15 264.21,131.15 264.86,131.15 265.51,131.15 266.16,131.15 266.81,131.15 267.46,131.15 268.11,131.15 268.76,131.15 269.41,131.15 270.06,131.15 270.71,131.15 271.36,131.15 272.01,131.15 272.66,131.15 273.31,131.15 273.96,131.15 274.61,131.15 275.26,131.16 275.91,131.16 276.56,131.16 277.21,131.16 277.86,131.16 278.51,131.16 279.16,131.16 279.81,131.16 280.46,131.16 281.11,131.16 281.76,131.16 282.41,131.16 283.06,131.16 283.71,131.16 284.36,131.16 285.01,131.16 285.66,131.16 286.30,131.16 286.95,131.17 287.60,131.17 288.25,131.17 288.90,131.17 289.55,131.17 290.20,131.17 290.85,131.17 291.50,131.17 292.15,131.17 292.80,131.17 293.45,131.17 294.10,131.17 294.75,131.17 295.40,131.18 296.05,131.18 296.70,131.18 297.35,131.18 298.00,131.18 298.65,131.18 299.30,131.18 299.95,131.18 300.60,131.18 301.25,131.18 301.90,131.18 302.55,131.18 303.20,131.19 303.85,131.19 304.50,131.19 305.15,131.19 305.80,131.19 306.45,131.19 307.10,131.19 307.75,131.19 308.40,131.19 309.05,131.19 309.70,131.20 310.35,131.20 310.99,131.20 311.64,131.20 312.29,131.20 312.94,131.20 313.59,131.20 314.24,131.20 314.89,131.20 315.54,131.20 316.19,131.21 316.84,131.21 317.49,131.21 318.14,131.21 318.79,131.21 319.44,131.21 320.09,131.21 320.74,131.21 321.39,131.21 322.04,131.22 322.69,131.22 323.34,131.22 323.99,131.22 324.64,131.22 325.29,131.22 325.94,131.22 326.59,131.22 327.24,131.22 327.89,131.23 328.54,131.23 329.19,131.23 329.84,131.23 330.49,131.23 331.14,131.23 331.79,131.23 332.44,131.23 333.09,131.23 333.74,131.24 334.39,131.24 335.04,131.24 335.69,131.24 336.33,131.24 336.98,131.24 337.63,131.24 338.28,131.24 338.93,131.24 339.58,131.25 340.23,131.25 340.88,131.25 341.53,131.25 342.18,131.25 342.83,131.25 343.48,131.25 344.13,131.25 344.78,131.25 345.43,131.26 346.08,131.26 346.73,131.26 347.38,131.26 348.03,131.26 348.68,131.26 349.33,131.26 349.98,131.26 350.63,131.26 351.28,131.27 351.93,131.27 352.58,131.27 353.23,131.27 353.88,131.27 354.53,131.27 355.18,131.27 355.83,131.27 356.48,131.27 357.13,131.27 357.78,131.28 358.43,131.28 359.08,131.28 359.73,131.28 360.38,131.28 361.02,131.28 361.67,131.28 362.32,131.28 362.97,131.28 363.62,131.28 364.27,131.29 364.92,131.29 365.57,131.29 366.22,131.29 366.87,131.29 367.52,131.29 368.17,131.29 368.82,131.29 369.47,131.29 370.12,131.29 370.77,131.29 371.42,131.29 372.07,131.30 372.72,131.30 373.37,131.30 374.02,131.30 374.67,131.30 375.32,131.30 375.97,131.30 376.62,131.30 377.27,131.30 377.92,131.30 378.57,131.30 379.22,131.30 379.87,131.30 380.52,131.30 381.17,131.31 381.82,131.31 382.47,131.31 383.12,131.31 383.77,131.31 384.42,131.31 385.07,131.31 385.72,131.31 386.36,131.31 387.01,131.31 387.66,131.31 388.31,131.31 388.96,131.31 389.61,131.31 390.26,131.31 390.91,131.31 391.56,131.31 392.21,131.31 392.86,131.31 393.51,131.31 394.16,131.31 394.81,131.31 395.46,131.31 396.11,131.32 396.76,131.32 397.41,131.32 398.06,131.32 398.71,131.32 399.36,131.32 400.01,131.32 400.66,131.32 401.31,131.32 401.96,131.32 402.61,131.32 403.26,131.32 403.91,131.32 404.56,131.32 405.21,131.32 405.86,131.32 406.51,131.32 407.16,131.32 407.81,131.32 408.46,131.32 409.11,131.32 409.76,131.32 410.41,131.32 411.05,131.32 411.70,131.32 412.35,131.32 413.00,131.32 413.65,131.32 414.30,131.32 414.95,131.32 415.60,131.32 416.25,131.32 416.90,131.32 417.55,131.32 418.20,131.32 418.85,131.32 419.50,131.32 420.15,131.32 420.80,131.32 421.45,131.32 422.10,131.32 422.75,131.32 423.40,131.32 424.05,131.32 424.70,131.32 425.35,131.32 426.00,131.32 426.65,131.32 427.30,131.32 427.95,131.32 428.60,131.32 429.25,131.32 429.90,131.32 430.55,131.32 431.20,131.32 431.85,131.32 432.50,131.32 433.15,131.32 433.80,131.32 434.45,131.32 435.10,131.32 435.75,131.32 436.39,131.32 437.04,131.32 437.69,131.32 438.34,131.32 444.76,131.32 451.17,131.32 457.59,131.32 464.00,131.32 470.41,131.32 476.83,131.32 483.24,131.32 489.66,131.32 496.07,131.32 502.49,131.32 508.90,131.32 515.31,131.32 521.73,131.32 528.14,131.32 534.56,131.32 540.97,131.32 547.38,131.32 553.80,131.32 560.21,131.32 566.63,131.32 573.04,131.32 579.45,131.32 585.87,131.32 592.28,131.32 598.70,131.32 605.11,131.32 611.52,131.32 617.94,131.32 624.35,131.32 630.77,131.32 637.18,131.32 643.60,131.32 650.01,131.32 656.42,131.32 662.84,131.32 669.25,131.32 675.67,131.32 682.08,131.32 688.49,131.32" stroke="#ff0000"/>
</g>
<g stroke="#868686" stroke-width="1" fill="none">
<rect x="48.5" y="4.5" width="640" height="337"/>
<line x1="48.5" y1="341.5" x2="54.5" y2="341.5"/>
<line x1="688.5" y1="341.5" x2="682.5" y2="341.5"/>
<line x1="48.5" y1="308.5" x2="54.5" y2="308.5"/>
<line x1="688.5" y1="308.5" x2="682.5" y2="308.5"/>
<line x1="48.5" y1="274.5" x2="54.5" y2="274.5"/>
<line x1="688.5" y1="274.5" x2="682.5" y2="274.5"/>
<line x1="48.5" y1="240.5" x2="54.5" y2="240.5"/>
<line x1="688.5" y1="240.5" x2="682.5" y2="240.5"/>
<line x1="48.5" y1="206.5" x2="54.5" y2="206.5"/>
<line x1="688.5" y1="206.5" x2="682.5" y2="206.5"/>
<line x1="48.5" y1="173.5" x2="54.5" y2="173.5"/>
<line x1="688.5" y1="173.5" x2="682.5" y2="173.5"/>
<line x1="48.5" y1="139.5" x2="54.5" y2="139.5"/>
<line x1="688.5" y1="139.5" x2="682.5" y2="139.5"/>
<line x1="48.5" y1="105.5" x2="54.5" y2="105.5"/>
<line x1="688.5" y1="105.5" x2="682.5" y2="105.5"/>
<line x1="48.5" y1="71.5" x2="54.5" y2="71.5"/>
<line x1="688.5" y1="71.5" x2="682.5" y2="71.5"/>
<line x1="48.5" y1="38.5" x2="54.5" y2="38.5"/>
<line x1="688.5" y1="38.5" x2="682.5" y2="38.5"/>
<line x1="48.5" y1="4.5" x2="54.5" y2="4.5"/>
<line x1="688.5" y1="4.5" x2="682.5" y2="4.5"/>
<line x1="48.5" y1="341.5" x2="48.5" y2="335.5"/>
<line x1="48.5" y1="4.5" x2="48.5" y2="10.5"/>
<line x1="113.5" y1="341.5" x2="113.5" y2="335.5"/>
<line x1="113.5" y1="4.5" x2="113.5" y2="10.5"/>
<line x1="178.5" y1="341.5" x2="178.5" y2="335.5"/>
<line x1="178.5" y1="4.5" x2="178.5" y2="10.5"/>
<line x1="243.5" y1="341.5" x2="243.5" y2="335.5"/>
<line x1="243.5" y1="4.5" x2="243.5" y2="10.5"/>
<line x1="308.5" y1="341.5" x2="308.5" y2="335.5"/>
<line x1="308.5" y1="4.5" x2="308.5" y2="10.5"/>
<line x1="373.5" y1="341.5" x2="373.5" y2="335.5"/>
<line x1="373.5" y1="4.5" x2="373.5" y2="10.5"/>
<line x1="438.5" y1="341.5" x2="438.5" y2="335.5"/>
<line x1="438.5" y1="4.5" x2="438.5" y2="10.5"/>
<line x1="503.5" y1="341.5" x2="503.5" y2="335.5"/>
<line x1="503.5" y1="4.5" x2="503.5" y2="10.5"/>
<line x1="568.5" y1="341.5" x2="568.5" y2="335.5"/>
<line x1="568.5" y1="4.5" x2="568.5" y2="10.5"/>
<line x1="633.5" y1="341.5" x2="633.5" y2="335.5"/>
<line x1="633.5" y1="4.5" x2="633.5" y2="10.5"/>
</g>
<g font-size="14.5" text-anchor="end">
<text x="45.1" y="346.8">0</text>
<text x="45.1" y="313.0">100</text>
<text x="45.1" y="279.2">200</text>
<text x="45.1" y="245.5">300</text>
<text x="45.1" y="211.8">400</text>
<text x="45.1" y="178.0">500</text>
<text x="45.1" y="144.2">600</text>
<text x="45.1" y="110.5">700</text>
<text x="45.1" y="76.8">800</text>
<text x="45.1" y="43.0">900</text>
<text x="45.1" y="9.2">1000</text>
</g>
<g font-size="14.5" text-anchor="middle">
<text x="48.5" y="358.8">0</text>
<text x="113.5" y="358.8">20</text>
<text x="178.4" y="358.8">40</text>
<text x="243.4" y="358.8">60</text>
<text x="308.4" y="358.8">80</text>
<text x="373.4" y="358.8">100</text>
<text x="438.3" y="358.8">120</text>
<text x="503.3" y="358.8">140</text>
<text x="568.3" y="358.8">160</text>
<text x="633.3" y="358.8">180</text>
</g>
<text transform="translate(370.2,377.2) scale(1.12,1)" font-size="14.3" font-weight="bold" font-style="italic" text-anchor="middle">time [d]</text>
<text transform="translate(11.3,171.0) rotate(-90) scale(1.18,1)" font-size="14.3" font-weight="bold" font-style="italic" text-anchor="middle">R [&#956;m]</text>
<rect x="287.5" y="257.5" width="394" height="76" fill="#fff" stroke="#868686" stroke-width="1"/>
<g font-size="12.85" font-style="italic">
<line x1="288.3" y1="267.6" x2="305.5" y2="267.6" stroke="#000000" stroke-width="1.5"/>
<text x="310.4" y="274.8">S2 (M<tspan dy="-6.7" font-size="10">in</tspan><tspan dy="6.7"> </tspan><tspan dx="0.4" dy="1.2">=</tspan><tspan dy="-1.2"> 0 g/m</tspan><tspan dx="1.2" dy="-6.7" font-size="10">3</tspan><tspan dx="0.6" dy="6.7">)</tspan></text>
<line x1="288.3" y1="286.3" x2="305.5" y2="286.3" stroke="#7f7f7f" stroke-width="1.5"/>
<text x="310.4" y="293.5">S3 (M<tspan dy="-6.7" font-size="10">in</tspan><tspan dy="6.7"> </tspan><tspan dx="0.4" dy="1.2">=</tspan><tspan dy="-1.2"> 20 g/m</tspan><tspan dx="1.2" dy="-6.7" font-size="10">3</tspan><tspan dx="0.6" dy="6.7">)</tspan></text>
<line x1="288.3" y1="305.2" x2="305.5" y2="305.2" stroke="#a01ee0" stroke-width="1.5"/>
<text x="310.4" y="312.4">S4 (M<tspan dy="-6.7" font-size="10">in</tspan><tspan dy="6.7"> </tspan><tspan dx="0.4" dy="1.2">=</tspan><tspan dy="-1.2"> 40 g/m</tspan><tspan dx="1.2" dy="-6.7" font-size="10">3</tspan><tspan dx="0.6" dy="6.7">)</tspan></text>
<line x1="288.3" y1="324.0" x2="305.5" y2="324.0" stroke="#0000ff" stroke-width="1.5"/>
<text x="310.4" y="331.2">S5 (M<tspan dy="-6.7" font-size="10">in</tspan><tspan dy="6.7"> </tspan><tspan dx="0.4" dy="1.2">=</tspan><tspan dy="-1.2"> 60 g/m</tspan><tspan dx="1.2" dy="-6.7" font-size="10">3</tspan><tspan dx="0.6" dy="6.7">)</tspan></text>
<line x1="413.7" y1="267.6" x2="431.1" y2="267.6" stroke="#008000" stroke-width="1.5"/>
<text x="436.0" y="274.8">S6 (M<tspan dy="-6.7" font-size="10">in</tspan><tspan dy="6.7"> </tspan><tspan dx="0.4" dy="1.2">=</tspan><tspan dy="-1.2"> 80 g/m</tspan><tspan dx="1.2" dy="-6.7" font-size="10">3</tspan><tspan dx="0.6" dy="6.7">)</tspan></text>
<line x1="413.7" y1="286.3" x2="431.1" y2="286.3" stroke="#00ff00" stroke-width="1.5"/>
<text x="436.0" y="293.5">S7 (M<tspan dy="-6.7" font-size="10">in</tspan><tspan dy="6.7"> </tspan><tspan dx="0.4" dy="1.2">=</tspan><tspan dy="-1.2"> 100 g/m</tspan><tspan dx="1.2" dy="-6.7" font-size="10">3</tspan><tspan dx="0.6" dy="6.7">)</tspan></text>
<line x1="413.7" y1="305.2" x2="431.1" y2="305.2" stroke="#ff8000" stroke-width="1.5"/>
<text x="436.0" y="312.4">S8 (M<tspan dy="-6.7" font-size="10">in</tspan><tspan dy="6.7"> </tspan><tspan dx="0.4" dy="1.2">=</tspan><tspan dy="-1.2"> 120 g/m</tspan><tspan dx="1.2" dy="-6.7" font-size="10">3</tspan><tspan dx="0.6" dy="6.7">)</tspan></text>
<line x1="413.7" y1="324.0" x2="431.1" y2="324.0" stroke="#ffff00" stroke-width="1.5"/>
<text x="436.0" y="331.2">S9 (M<tspan dy="-6.7" font-size="10">in</tspan><tspan dy="6.7"> </tspan><tspan dx="0.4" dy="1.2">=</tspan><tspan dy="-1.2"> 140 g/m</tspan><tspan dx="1.2" dy="-6.7" font-size="10">3</tspan><tspan dx="0.6" dy="6.7">)</tspan></text>
<line x1="545.3" y1="267.6" x2="562.4" y2="267.6" stroke="#00ffff" stroke-width="1.5"/>
<text x="567.0" y="274.8">S10 (M<tspan dy="-6.7" font-size="10">in</tspan><tspan dy="6.7"> </tspan><tspan dx="0.4" dy="1.2">=</tspan><tspan dy="-1.2"> 160 g/m</tspan><tspan dx="1.2" dy="-6.7" font-size="10">3</tspan><tspan dx="0.6" dy="6.7">)</tspan></text>
<line x1="545.3" y1="286.3" x2="562.4" y2="286.3" stroke="#ff00ff" stroke-width="1.5"/>
<text x="567.0" y="293.5">S11 (M<tspan dy="-6.7" font-size="10">in</tspan><tspan dy="6.7"> </tspan><tspan dx="0.4" dy="1.2">=</tspan><tspan dy="-1.2"> 180 g/m</tspan><tspan dx="1.2" dy="-6.7" font-size="10">3</tspan><tspan dx="0.6" dy="6.7">)</tspan></text>
<line x1="545.3" y1="305.2" x2="562.4" y2="305.2" stroke="#ff0000" stroke-width="1.5"/>
<text x="567.0" y="312.4">S12 (M<tspan dy="-6.7" font-size="10">in</tspan><tspan dy="6.7"> </tspan><tspan dx="0.4" dy="1.2">=</tspan><tspan dy="-1.2"> 200 g/m</tspan><tspan dx="1.2" dy="-6.7" font-size="10">3</tspan><tspan dx="0.6" dy="6.7">)</tspan></text>
</g>
</svg>
</body></html>
